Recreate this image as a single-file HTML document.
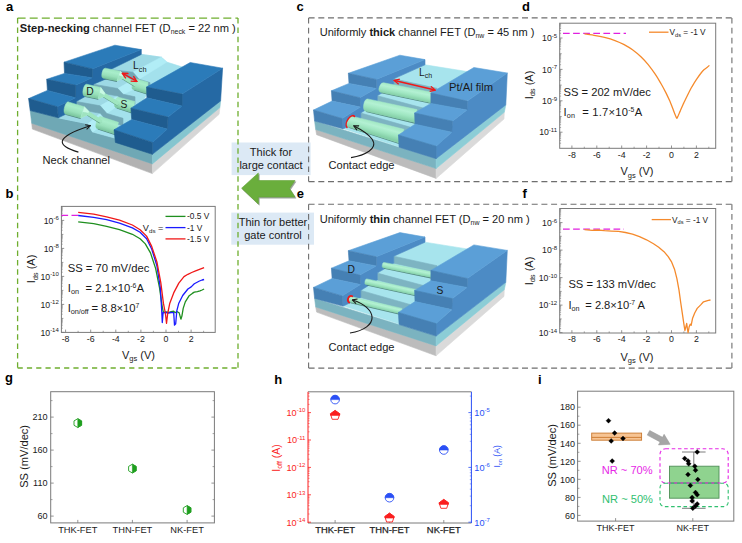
<!DOCTYPE html>
<html lang="en"><head><meta charset="utf-8"><title>Figure</title>
<style>
html,body{margin:0;padding:0;background:#fff;}
body{width:742px;height:543px;overflow:hidden;font-family:"Liberation Sans",Arial,sans-serif;}
svg{display:block;}
svg text{white-space:pre;}
</style></head><body>
<svg width="742" height="543" viewBox="0 0 742 543" font-family='"Liberation Sans", Arial, sans-serif'>
<rect x="231.6" y="142.5" width="79" height="32.6" fill="#dce9f5"/>
<rect x="231.3" y="212.6" width="82.7" height="32.1" fill="#dce9f5"/>
<line x1="17.6" y1="18.1" x2="238.0" y2="18.1" stroke="#6fae2f" stroke-width="1.3" stroke-dasharray="8 4.1"/>
<line x1="17.6" y1="368.0" x2="238.0" y2="368.0" stroke="#6fae2f" stroke-width="1.3" stroke-dasharray="5.2 4.1"/>
<line x1="17.6" y1="18.1" x2="17.6" y2="368.0" stroke="#6fae2f" stroke-width="1.3" stroke-dasharray="5.5 3.8"/>
<line x1="238.0" y1="18.1" x2="238.0" y2="368.0" stroke="#6fae2f" stroke-width="1.3" stroke-dasharray="5.5 3.8"/>
<line x1="308.6" y1="17.9" x2="731.9" y2="17.9" stroke="#6e6e6e" stroke-width="1.1" stroke-dasharray="6 3.7"/>
<line x1="308.6" y1="181.6" x2="731.9" y2="181.6" stroke="#6e6e6e" stroke-width="1.1" stroke-dasharray="6 3.7"/>
<line x1="308.6" y1="17.9" x2="308.6" y2="181.6" stroke="#6e6e6e" stroke-width="1.1" stroke-dasharray="5.7 4.2"/>
<line x1="731.9" y1="17.9" x2="731.9" y2="181.6" stroke="#6e6e6e" stroke-width="1.1" stroke-dasharray="5.7 4.2"/>
<line x1="308.6" y1="204.2" x2="731.9" y2="204.2" stroke="#6e6e6e" stroke-width="1.1" stroke-dasharray="6 3.7"/>
<line x1="308.6" y1="368.1" x2="731.9" y2="368.1" stroke="#6e6e6e" stroke-width="1.1" stroke-dasharray="6 3.7"/>
<line x1="308.6" y1="204.2" x2="308.6" y2="368.1" stroke="#6e6e6e" stroke-width="1.1" stroke-dasharray="5.7 4.2"/>
<line x1="731.9" y1="204.2" x2="731.9" y2="368.1" stroke="#6e6e6e" stroke-width="1.1" stroke-dasharray="5.7 4.2"/>
<text x="6.0" y="11.4" font-size="13" text-anchor="start" font-weight="bold" fill="#000" >a</text>
<text x="5.5" y="197.5" font-size="13" text-anchor="start" font-weight="bold" fill="#000" >b</text>
<text x="296.5" y="11.4" font-size="13" text-anchor="start" font-weight="bold" fill="#000" >c</text>
<text x="522.0" y="11.4" font-size="13" text-anchor="start" font-weight="bold" fill="#000" >d</text>
<text x="296.7" y="197.5" font-size="13" text-anchor="start" font-weight="bold" fill="#000" >e</text>
<text x="522.5" y="197.5" font-size="13" text-anchor="start" font-weight="bold" fill="#000" >f</text>
<text x="5.0" y="382.2" font-size="13" text-anchor="start" font-weight="bold" fill="#000" >g</text>
<text x="274.3" y="383.7" font-size="13" text-anchor="start" font-weight="bold" fill="#000" >h</text>
<text x="538.0" y="383.5" font-size="13" text-anchor="start" font-weight="bold" fill="#000" >i</text>
<text x="271.0" y="156.2" font-size="11.05" text-anchor="middle" font-weight="normal" fill="#1a1a1a" >Thick for</text>
<text x="271.0" y="169.4" font-size="11.05" text-anchor="middle" font-weight="normal" fill="#1a1a1a" >large contact</text>
<text x="273.0" y="226.0" font-size="11.0" text-anchor="middle" font-weight="normal" fill="#1a1a1a" >Thin for better</text>
<text x="273.0" y="238.9" font-size="11.0" text-anchor="middle" font-weight="normal" fill="#1a1a1a" >gate control</text>
<polygon points="242.6,189.4 259.3,174.2 259.3,181.7 296.0,181.7 290.5,189.7 296.0,198.2 259.3,198.2 259.3,205.2" fill="#9aa39a" stroke="#9aa39a" stroke-width="0.5" stroke-linejoin="round" />
<polygon points="241.6,188.2 258.3,173.0 258.3,180.5 295.0,180.5 289.5,188.5 295.0,197.0 258.3,197.0 258.3,204.0" fill="#6aae3c" stroke="#63a337" stroke-width="0.6" stroke-linejoin="round" />
<text x="19.8" y="32.0" font-size="11.1" text-anchor="start" font-weight="normal" fill="#1a1a1a" textLength="216" lengthAdjust="spacingAndGlyphs"><tspan font-weight="bold">Step-necking</tspan> channel FET (D<tspan font-size="6.9" dy="2">neck</tspan><tspan dy="-2" font-size="1">&#8203;</tspan> = 22 nm )</text>
<text x="319.7" y="35.8" font-size="11.05" text-anchor="start" font-weight="normal" fill="#1a1a1a" textLength="214.7" lengthAdjust="spacingAndGlyphs">Uniformly <tspan font-weight="bold">thick</tspan> channel FET (D<tspan font-size="6.9" dy="2">nw</tspan><tspan dy="-2" font-size="1">&#8203;</tspan> = 45 nm )</text>
<text x="319.7" y="223.4" font-size="11.05" text-anchor="start" font-weight="normal" fill="#1a1a1a" textLength="210" lengthAdjust="spacingAndGlyphs">Uniformly <tspan font-weight="bold">thin</tspan> channel FET (D<tspan font-size="6.9" dy="2">nw</tspan><tspan dy="-2" font-size="1">&#8203;</tspan> = 20 nm )</text>
<rect x="61.4" y="206.4" width="153.8" height="126.0" fill="#fff" stroke="#7a7a7a" stroke-width="1.0"/>
<line x1="61.4" y1="220.4" x2="64.2" y2="220.4" stroke="#7a7a7a" stroke-width="0.8" />
<text x="58.8" y="223.6" font-size="8.7" text-anchor="end" font-weight="normal" fill="#1a1a1a" >10<tspan font-size="6.0" dy="-3.3">-6</tspan><tspan dy="3.3" font-size="1">&#8203;</tspan></text>
<line x1="61.4" y1="248.4" x2="64.2" y2="248.4" stroke="#7a7a7a" stroke-width="0.8" />
<text x="58.8" y="251.6" font-size="8.7" text-anchor="end" font-weight="normal" fill="#1a1a1a" >10<tspan font-size="6.0" dy="-3.3">-8</tspan><tspan dy="3.3" font-size="1">&#8203;</tspan></text>
<line x1="61.4" y1="276.4" x2="64.2" y2="276.4" stroke="#7a7a7a" stroke-width="0.8" />
<text x="58.8" y="279.6" font-size="8.7" text-anchor="end" font-weight="normal" fill="#1a1a1a" >10<tspan font-size="6.0" dy="-3.3">-10</tspan><tspan dy="3.3" font-size="1">&#8203;</tspan></text>
<line x1="61.4" y1="304.4" x2="64.2" y2="304.4" stroke="#7a7a7a" stroke-width="0.8" />
<text x="58.8" y="307.6" font-size="8.7" text-anchor="end" font-weight="normal" fill="#1a1a1a" >10<tspan font-size="6.0" dy="-3.3">-12</tspan><tspan dy="3.3" font-size="1">&#8203;</tspan></text>
<line x1="61.4" y1="332.4" x2="64.2" y2="332.4" stroke="#7a7a7a" stroke-width="0.8" />
<text x="58.8" y="335.6" font-size="8.7" text-anchor="end" font-weight="normal" fill="#1a1a1a" >10<tspan font-size="6.0" dy="-3.3">-14</tspan><tspan dy="3.3" font-size="1">&#8203;</tspan></text>
<line x1="61.4" y1="234.4" x2="63.4" y2="234.4" stroke="#7a7a7a" stroke-width="0.7" />
<line x1="61.4" y1="262.4" x2="63.4" y2="262.4" stroke="#7a7a7a" stroke-width="0.7" />
<line x1="61.4" y1="290.4" x2="63.4" y2="290.4" stroke="#7a7a7a" stroke-width="0.7" />
<line x1="61.4" y1="318.4" x2="63.4" y2="318.4" stroke="#7a7a7a" stroke-width="0.7" />
<line x1="61.4" y1="216.2" x2="62.8" y2="216.2" stroke="#7a7a7a" stroke-width="0.6" />
<line x1="61.4" y1="213.7" x2="62.8" y2="213.7" stroke="#7a7a7a" stroke-width="0.6" />
<line x1="61.4" y1="212.0" x2="62.8" y2="212.0" stroke="#7a7a7a" stroke-width="0.6" />
<line x1="61.4" y1="210.6" x2="62.8" y2="210.6" stroke="#7a7a7a" stroke-width="0.6" />
<line x1="61.4" y1="209.5" x2="62.8" y2="209.5" stroke="#7a7a7a" stroke-width="0.6" />
<line x1="61.4" y1="208.6" x2="62.8" y2="208.6" stroke="#7a7a7a" stroke-width="0.6" />
<line x1="61.4" y1="207.8" x2="62.8" y2="207.8" stroke="#7a7a7a" stroke-width="0.6" />
<line x1="61.4" y1="207.0" x2="62.8" y2="207.0" stroke="#7a7a7a" stroke-width="0.6" />
<line x1="61.4" y1="230.2" x2="62.8" y2="230.2" stroke="#7a7a7a" stroke-width="0.6" />
<line x1="61.4" y1="227.7" x2="62.8" y2="227.7" stroke="#7a7a7a" stroke-width="0.6" />
<line x1="61.4" y1="226.0" x2="62.8" y2="226.0" stroke="#7a7a7a" stroke-width="0.6" />
<line x1="61.4" y1="224.6" x2="62.8" y2="224.6" stroke="#7a7a7a" stroke-width="0.6" />
<line x1="61.4" y1="223.5" x2="62.8" y2="223.5" stroke="#7a7a7a" stroke-width="0.6" />
<line x1="61.4" y1="222.6" x2="62.8" y2="222.6" stroke="#7a7a7a" stroke-width="0.6" />
<line x1="61.4" y1="221.8" x2="62.8" y2="221.8" stroke="#7a7a7a" stroke-width="0.6" />
<line x1="61.4" y1="221.0" x2="62.8" y2="221.0" stroke="#7a7a7a" stroke-width="0.6" />
<line x1="61.4" y1="244.2" x2="62.8" y2="244.2" stroke="#7a7a7a" stroke-width="0.6" />
<line x1="61.4" y1="241.7" x2="62.8" y2="241.7" stroke="#7a7a7a" stroke-width="0.6" />
<line x1="61.4" y1="240.0" x2="62.8" y2="240.0" stroke="#7a7a7a" stroke-width="0.6" />
<line x1="61.4" y1="238.6" x2="62.8" y2="238.6" stroke="#7a7a7a" stroke-width="0.6" />
<line x1="61.4" y1="237.5" x2="62.8" y2="237.5" stroke="#7a7a7a" stroke-width="0.6" />
<line x1="61.4" y1="236.6" x2="62.8" y2="236.6" stroke="#7a7a7a" stroke-width="0.6" />
<line x1="61.4" y1="235.8" x2="62.8" y2="235.8" stroke="#7a7a7a" stroke-width="0.6" />
<line x1="61.4" y1="235.0" x2="62.8" y2="235.0" stroke="#7a7a7a" stroke-width="0.6" />
<line x1="61.4" y1="258.2" x2="62.8" y2="258.2" stroke="#7a7a7a" stroke-width="0.6" />
<line x1="61.4" y1="255.7" x2="62.8" y2="255.7" stroke="#7a7a7a" stroke-width="0.6" />
<line x1="61.4" y1="254.0" x2="62.8" y2="254.0" stroke="#7a7a7a" stroke-width="0.6" />
<line x1="61.4" y1="252.6" x2="62.8" y2="252.6" stroke="#7a7a7a" stroke-width="0.6" />
<line x1="61.4" y1="251.5" x2="62.8" y2="251.5" stroke="#7a7a7a" stroke-width="0.6" />
<line x1="61.4" y1="250.6" x2="62.8" y2="250.6" stroke="#7a7a7a" stroke-width="0.6" />
<line x1="61.4" y1="249.8" x2="62.8" y2="249.8" stroke="#7a7a7a" stroke-width="0.6" />
<line x1="61.4" y1="249.0" x2="62.8" y2="249.0" stroke="#7a7a7a" stroke-width="0.6" />
<line x1="61.4" y1="272.2" x2="62.8" y2="272.2" stroke="#7a7a7a" stroke-width="0.6" />
<line x1="61.4" y1="269.7" x2="62.8" y2="269.7" stroke="#7a7a7a" stroke-width="0.6" />
<line x1="61.4" y1="268.0" x2="62.8" y2="268.0" stroke="#7a7a7a" stroke-width="0.6" />
<line x1="61.4" y1="266.6" x2="62.8" y2="266.6" stroke="#7a7a7a" stroke-width="0.6" />
<line x1="61.4" y1="265.5" x2="62.8" y2="265.5" stroke="#7a7a7a" stroke-width="0.6" />
<line x1="61.4" y1="264.6" x2="62.8" y2="264.6" stroke="#7a7a7a" stroke-width="0.6" />
<line x1="61.4" y1="263.8" x2="62.8" y2="263.8" stroke="#7a7a7a" stroke-width="0.6" />
<line x1="61.4" y1="263.0" x2="62.8" y2="263.0" stroke="#7a7a7a" stroke-width="0.6" />
<line x1="61.4" y1="286.2" x2="62.8" y2="286.2" stroke="#7a7a7a" stroke-width="0.6" />
<line x1="61.4" y1="283.7" x2="62.8" y2="283.7" stroke="#7a7a7a" stroke-width="0.6" />
<line x1="61.4" y1="282.0" x2="62.8" y2="282.0" stroke="#7a7a7a" stroke-width="0.6" />
<line x1="61.4" y1="280.6" x2="62.8" y2="280.6" stroke="#7a7a7a" stroke-width="0.6" />
<line x1="61.4" y1="279.5" x2="62.8" y2="279.5" stroke="#7a7a7a" stroke-width="0.6" />
<line x1="61.4" y1="278.6" x2="62.8" y2="278.6" stroke="#7a7a7a" stroke-width="0.6" />
<line x1="61.4" y1="277.8" x2="62.8" y2="277.8" stroke="#7a7a7a" stroke-width="0.6" />
<line x1="61.4" y1="277.0" x2="62.8" y2="277.0" stroke="#7a7a7a" stroke-width="0.6" />
<line x1="61.4" y1="300.2" x2="62.8" y2="300.2" stroke="#7a7a7a" stroke-width="0.6" />
<line x1="61.4" y1="297.7" x2="62.8" y2="297.7" stroke="#7a7a7a" stroke-width="0.6" />
<line x1="61.4" y1="296.0" x2="62.8" y2="296.0" stroke="#7a7a7a" stroke-width="0.6" />
<line x1="61.4" y1="294.6" x2="62.8" y2="294.6" stroke="#7a7a7a" stroke-width="0.6" />
<line x1="61.4" y1="293.5" x2="62.8" y2="293.5" stroke="#7a7a7a" stroke-width="0.6" />
<line x1="61.4" y1="292.6" x2="62.8" y2="292.6" stroke="#7a7a7a" stroke-width="0.6" />
<line x1="61.4" y1="291.8" x2="62.8" y2="291.8" stroke="#7a7a7a" stroke-width="0.6" />
<line x1="61.4" y1="291.0" x2="62.8" y2="291.0" stroke="#7a7a7a" stroke-width="0.6" />
<line x1="61.4" y1="314.2" x2="62.8" y2="314.2" stroke="#7a7a7a" stroke-width="0.6" />
<line x1="61.4" y1="311.7" x2="62.8" y2="311.7" stroke="#7a7a7a" stroke-width="0.6" />
<line x1="61.4" y1="310.0" x2="62.8" y2="310.0" stroke="#7a7a7a" stroke-width="0.6" />
<line x1="61.4" y1="308.6" x2="62.8" y2="308.6" stroke="#7a7a7a" stroke-width="0.6" />
<line x1="61.4" y1="307.5" x2="62.8" y2="307.5" stroke="#7a7a7a" stroke-width="0.6" />
<line x1="61.4" y1="306.6" x2="62.8" y2="306.6" stroke="#7a7a7a" stroke-width="0.6" />
<line x1="61.4" y1="305.8" x2="62.8" y2="305.8" stroke="#7a7a7a" stroke-width="0.6" />
<line x1="61.4" y1="305.0" x2="62.8" y2="305.0" stroke="#7a7a7a" stroke-width="0.6" />
<line x1="61.4" y1="328.2" x2="62.8" y2="328.2" stroke="#7a7a7a" stroke-width="0.6" />
<line x1="61.4" y1="325.7" x2="62.8" y2="325.7" stroke="#7a7a7a" stroke-width="0.6" />
<line x1="61.4" y1="324.0" x2="62.8" y2="324.0" stroke="#7a7a7a" stroke-width="0.6" />
<line x1="61.4" y1="322.6" x2="62.8" y2="322.6" stroke="#7a7a7a" stroke-width="0.6" />
<line x1="61.4" y1="321.5" x2="62.8" y2="321.5" stroke="#7a7a7a" stroke-width="0.6" />
<line x1="61.4" y1="320.6" x2="62.8" y2="320.6" stroke="#7a7a7a" stroke-width="0.6" />
<line x1="61.4" y1="319.8" x2="62.8" y2="319.8" stroke="#7a7a7a" stroke-width="0.6" />
<line x1="61.4" y1="319.0" x2="62.8" y2="319.0" stroke="#7a7a7a" stroke-width="0.6" />
<line x1="65.6" y1="332.4" x2="65.6" y2="329.6" stroke="#7a7a7a" stroke-width="0.8" />
<text x="65.6" y="341.6" font-size="8.8" text-anchor="middle" font-weight="normal" fill="#1a1a1a" >-8</text>
<line x1="90.7" y1="332.4" x2="90.7" y2="329.6" stroke="#7a7a7a" stroke-width="0.8" />
<text x="90.7" y="341.6" font-size="8.8" text-anchor="middle" font-weight="normal" fill="#1a1a1a" >-6</text>
<line x1="115.8" y1="332.4" x2="115.8" y2="329.6" stroke="#7a7a7a" stroke-width="0.8" />
<text x="115.8" y="341.6" font-size="8.8" text-anchor="middle" font-weight="normal" fill="#1a1a1a" >-4</text>
<line x1="140.9" y1="332.4" x2="140.9" y2="329.6" stroke="#7a7a7a" stroke-width="0.8" />
<text x="140.9" y="341.6" font-size="8.8" text-anchor="middle" font-weight="normal" fill="#1a1a1a" >-2</text>
<line x1="166.0" y1="332.4" x2="166.0" y2="329.6" stroke="#7a7a7a" stroke-width="0.8" />
<text x="166.0" y="341.6" font-size="8.8" text-anchor="middle" font-weight="normal" fill="#1a1a1a" >0</text>
<line x1="191.1" y1="332.4" x2="191.1" y2="329.6" stroke="#7a7a7a" stroke-width="0.8" />
<text x="191.1" y="341.6" font-size="8.8" text-anchor="middle" font-weight="normal" fill="#1a1a1a" >2</text>
<line x1="78.1" y1="332.4" x2="78.1" y2="330.8" stroke="#7a7a7a" stroke-width="0.7" />
<line x1="103.2" y1="332.4" x2="103.2" y2="330.8" stroke="#7a7a7a" stroke-width="0.7" />
<line x1="128.3" y1="332.4" x2="128.3" y2="330.8" stroke="#7a7a7a" stroke-width="0.7" />
<line x1="153.4" y1="332.4" x2="153.4" y2="330.8" stroke="#7a7a7a" stroke-width="0.7" />
<line x1="178.5" y1="332.4" x2="178.5" y2="330.8" stroke="#7a7a7a" stroke-width="0.7" />
<line x1="203.6" y1="332.4" x2="203.6" y2="330.8" stroke="#7a7a7a" stroke-width="0.7" />
<text x="138.5" y="358.6" font-size="11" text-anchor="middle" font-weight="normal" fill="#1a1a1a" >V<tspan font-size="7.5" dy="2.2">gs</tspan><tspan dy="-2.2" font-size="1">&#8203;</tspan> (V)</text>
<text x="35.4" y="269.0" font-size="11" text-anchor="middle" font-weight="normal" fill="#1a1a1a" transform="rotate(-90 35.4 269.0)" >I<tspan font-size="7.5" dy="2.2">ds</tspan><tspan dy="-2.2" font-size="1">&#8203;</tspan> (A)</text>
<line x1="61.4" y1="215.3" x2="78.5" y2="215.3" stroke="#e020e0" stroke-width="1.3" stroke-dasharray="6.7 3.4"/>
<path d="M78.2 221.9 L93.7 223.7 L106.6 226.3 L119.5 229.7 L132.4 234.3 L140.1 238.7 L145.3 243.9 L150.5 252.9 L155.6 268.4 L159.5 287.7 L162.1 305.8 L163.4 312.7 L165.9 312.0 L168.5 312.5 L171.1 311.7 L173.7 311.2 L175.2 312.7 L177.3 311.7 L179.1 312.7 L180.9 319.2 L181.9 316.1 L183.2 308.4 L185.3 301.9 L189.2 295.7 L192.3 293.4 L194.3 292.1 L197.4 291.6 L200.0 290.8 L202.1 290.0 L204.1 289.0" fill="none" stroke="#1f8f1f" stroke-width="1.3" stroke-linejoin="round"/>
<path d="M78.2 215.5 L93.7 217.3 L106.6 219.6 L119.5 223.2 L132.4 227.9 L140.1 232.2 L146.6 238.7 L151.7 249.0 L156.9 265.8 L160.3 287.7 L161.6 308.4 L162.3 322.5 L163.1 312.7 L165.9 312.5 L168.5 313.0 L171.1 312.5 L173.7 312.7 L174.5 325.1 L175.7 323.8 L176.8 310.9 L178.8 303.2 L182.7 295.5 L187.9 289.0 L191.2 286.9 L194.3 283.8 L199.5 281.0 L202.1 280.0 L204.1 279.5" fill="none" stroke="#1a1aff" stroke-width="1.3" stroke-linejoin="round"/>
<path d="M78.2 212.4 L93.7 214.2 L106.6 216.8 L119.5 220.1 L132.4 225.0 L140.1 229.7 L146.6 236.1 L151.7 246.4 L156.9 261.9 L160.8 282.6 L163.4 303.2 L165.4 313.5 L166.5 323.3 L167.7 313.5 L169.8 303.2 L173.7 292.9 L178.8 283.1 L184.0 276.6 L187.9 274.3 L191.7 272.5 L195.6 270.9 L199.5 269.4 L204.1 267.6" fill="none" stroke="#f01818" stroke-width="1.3" stroke-linejoin="round"/>
<line x1="165.5" y1="216.4" x2="185.5" y2="216.4" stroke="#1f8f1f" stroke-width="1.3" />
<text x="187.0" y="219.4" font-size="8.4" text-anchor="start" font-weight="normal" fill="#1a1a1a" >-0.5 V</text>
<line x1="165.5" y1="227.6" x2="185.5" y2="227.6" stroke="#1a1aff" stroke-width="1.3" />
<text x="187.0" y="230.6" font-size="8.4" text-anchor="start" font-weight="normal" fill="#1a1a1a" >-1 V</text>
<line x1="165.5" y1="238.9" x2="185.5" y2="238.9" stroke="#f01818" stroke-width="1.3" />
<text x="187.0" y="241.9" font-size="8.4" text-anchor="start" font-weight="normal" fill="#1a1a1a" >-1.5 V</text>
<text x="142.8" y="230.6" font-size="9.2" text-anchor="start" font-weight="normal" fill="#1a1a1a" >V<tspan font-size="6.2" dy="2.2">ds</tspan><tspan dy="-2.2" font-size="1">&#8203;</tspan> =</text>
<text x="67.7" y="271.9" font-size="11.25" text-anchor="start" font-weight="normal" fill="#1a1a1a" >SS = 70 mV/dec</text>
<text x="67.7" y="292.0" font-size="11.25" text-anchor="start" font-weight="normal" fill="#1a1a1a" textLength="76.3">I<tspan font-size="7.3" dy="2.2">on</tspan><tspan dy="-2.2" font-size="1">&#8203;</tspan>  = 2.1×10<tspan font-size="6.8" dy="-4">-6</tspan><tspan dy="4" font-size="1">&#8203;</tspan>A</text>
<text x="67.7" y="311.9" font-size="11.25" text-anchor="start" font-weight="normal" fill="#1a1a1a" textLength="71.5">I<tspan font-size="7.3" dy="2.2">on/off</tspan><tspan dy="-2.2" font-size="1">&#8203;</tspan> = 8.8×10<tspan font-size="6.8" dy="-4">7</tspan><tspan dy="4" font-size="1">&#8203;</tspan></text>
<rect x="559.7" y="23.2" width="156.0" height="125.1" fill="#fff" stroke="#7a7a7a" stroke-width="1.0"/>
<line x1="559.7" y1="38.0" x2="562.5" y2="38.0" stroke="#7a7a7a" stroke-width="0.8" />
<text x="557.1" y="41.2" font-size="8.7" text-anchor="end" font-weight="normal" fill="#1a1a1a" >10<tspan font-size="6.0" dy="-3.3">-5</tspan><tspan dy="3.3" font-size="1">&#8203;</tspan></text>
<line x1="559.7" y1="69.4" x2="562.5" y2="69.4" stroke="#7a7a7a" stroke-width="0.8" />
<text x="557.1" y="72.6" font-size="8.7" text-anchor="end" font-weight="normal" fill="#1a1a1a" >10<tspan font-size="6.0" dy="-3.3">-7</tspan><tspan dy="3.3" font-size="1">&#8203;</tspan></text>
<line x1="559.7" y1="100.8" x2="562.5" y2="100.8" stroke="#7a7a7a" stroke-width="0.8" />
<text x="557.1" y="104.0" font-size="8.7" text-anchor="end" font-weight="normal" fill="#1a1a1a" >10<tspan font-size="6.0" dy="-3.3">-9</tspan><tspan dy="3.3" font-size="1">&#8203;</tspan></text>
<line x1="559.7" y1="132.2" x2="562.5" y2="132.2" stroke="#7a7a7a" stroke-width="0.8" />
<text x="557.1" y="135.4" font-size="8.7" text-anchor="end" font-weight="normal" fill="#1a1a1a" >10<tspan font-size="6.0" dy="-3.3">-11</tspan><tspan dy="3.3" font-size="1">&#8203;</tspan></text>
<line x1="559.7" y1="53.7" x2="561.7" y2="53.7" stroke="#7a7a7a" stroke-width="0.7" />
<line x1="559.7" y1="85.1" x2="561.7" y2="85.1" stroke="#7a7a7a" stroke-width="0.7" />
<line x1="559.7" y1="116.5" x2="561.7" y2="116.5" stroke="#7a7a7a" stroke-width="0.7" />
<line x1="559.7" y1="33.3" x2="561.1" y2="33.3" stroke="#7a7a7a" stroke-width="0.6" />
<line x1="559.7" y1="30.5" x2="561.1" y2="30.5" stroke="#7a7a7a" stroke-width="0.6" />
<line x1="559.7" y1="28.5" x2="561.1" y2="28.5" stroke="#7a7a7a" stroke-width="0.6" />
<line x1="559.7" y1="27.0" x2="561.1" y2="27.0" stroke="#7a7a7a" stroke-width="0.6" />
<line x1="559.7" y1="25.8" x2="561.1" y2="25.8" stroke="#7a7a7a" stroke-width="0.6" />
<line x1="559.7" y1="24.7" x2="561.1" y2="24.7" stroke="#7a7a7a" stroke-width="0.6" />
<line x1="559.7" y1="23.8" x2="561.1" y2="23.8" stroke="#7a7a7a" stroke-width="0.6" />
<line x1="559.7" y1="49.0" x2="561.1" y2="49.0" stroke="#7a7a7a" stroke-width="0.6" />
<line x1="559.7" y1="46.2" x2="561.1" y2="46.2" stroke="#7a7a7a" stroke-width="0.6" />
<line x1="559.7" y1="44.2" x2="561.1" y2="44.2" stroke="#7a7a7a" stroke-width="0.6" />
<line x1="559.7" y1="42.7" x2="561.1" y2="42.7" stroke="#7a7a7a" stroke-width="0.6" />
<line x1="559.7" y1="41.5" x2="561.1" y2="41.5" stroke="#7a7a7a" stroke-width="0.6" />
<line x1="559.7" y1="40.4" x2="561.1" y2="40.4" stroke="#7a7a7a" stroke-width="0.6" />
<line x1="559.7" y1="39.5" x2="561.1" y2="39.5" stroke="#7a7a7a" stroke-width="0.6" />
<line x1="559.7" y1="38.7" x2="561.1" y2="38.7" stroke="#7a7a7a" stroke-width="0.6" />
<line x1="559.7" y1="64.7" x2="561.1" y2="64.7" stroke="#7a7a7a" stroke-width="0.6" />
<line x1="559.7" y1="61.9" x2="561.1" y2="61.9" stroke="#7a7a7a" stroke-width="0.6" />
<line x1="559.7" y1="59.9" x2="561.1" y2="59.9" stroke="#7a7a7a" stroke-width="0.6" />
<line x1="559.7" y1="58.4" x2="561.1" y2="58.4" stroke="#7a7a7a" stroke-width="0.6" />
<line x1="559.7" y1="57.2" x2="561.1" y2="57.2" stroke="#7a7a7a" stroke-width="0.6" />
<line x1="559.7" y1="56.1" x2="561.1" y2="56.1" stroke="#7a7a7a" stroke-width="0.6" />
<line x1="559.7" y1="55.2" x2="561.1" y2="55.2" stroke="#7a7a7a" stroke-width="0.6" />
<line x1="559.7" y1="54.4" x2="561.1" y2="54.4" stroke="#7a7a7a" stroke-width="0.6" />
<line x1="559.7" y1="80.4" x2="561.1" y2="80.4" stroke="#7a7a7a" stroke-width="0.6" />
<line x1="559.7" y1="77.6" x2="561.1" y2="77.6" stroke="#7a7a7a" stroke-width="0.6" />
<line x1="559.7" y1="75.6" x2="561.1" y2="75.6" stroke="#7a7a7a" stroke-width="0.6" />
<line x1="559.7" y1="74.1" x2="561.1" y2="74.1" stroke="#7a7a7a" stroke-width="0.6" />
<line x1="559.7" y1="72.9" x2="561.1" y2="72.9" stroke="#7a7a7a" stroke-width="0.6" />
<line x1="559.7" y1="71.8" x2="561.1" y2="71.8" stroke="#7a7a7a" stroke-width="0.6" />
<line x1="559.7" y1="70.9" x2="561.1" y2="70.9" stroke="#7a7a7a" stroke-width="0.6" />
<line x1="559.7" y1="70.1" x2="561.1" y2="70.1" stroke="#7a7a7a" stroke-width="0.6" />
<line x1="559.7" y1="96.1" x2="561.1" y2="96.1" stroke="#7a7a7a" stroke-width="0.6" />
<line x1="559.7" y1="93.3" x2="561.1" y2="93.3" stroke="#7a7a7a" stroke-width="0.6" />
<line x1="559.7" y1="91.3" x2="561.1" y2="91.3" stroke="#7a7a7a" stroke-width="0.6" />
<line x1="559.7" y1="89.8" x2="561.1" y2="89.8" stroke="#7a7a7a" stroke-width="0.6" />
<line x1="559.7" y1="88.6" x2="561.1" y2="88.6" stroke="#7a7a7a" stroke-width="0.6" />
<line x1="559.7" y1="87.5" x2="561.1" y2="87.5" stroke="#7a7a7a" stroke-width="0.6" />
<line x1="559.7" y1="86.6" x2="561.1" y2="86.6" stroke="#7a7a7a" stroke-width="0.6" />
<line x1="559.7" y1="85.8" x2="561.1" y2="85.8" stroke="#7a7a7a" stroke-width="0.6" />
<line x1="559.7" y1="111.8" x2="561.1" y2="111.8" stroke="#7a7a7a" stroke-width="0.6" />
<line x1="559.7" y1="109.0" x2="561.1" y2="109.0" stroke="#7a7a7a" stroke-width="0.6" />
<line x1="559.7" y1="107.0" x2="561.1" y2="107.0" stroke="#7a7a7a" stroke-width="0.6" />
<line x1="559.7" y1="105.5" x2="561.1" y2="105.5" stroke="#7a7a7a" stroke-width="0.6" />
<line x1="559.7" y1="104.3" x2="561.1" y2="104.3" stroke="#7a7a7a" stroke-width="0.6" />
<line x1="559.7" y1="103.2" x2="561.1" y2="103.2" stroke="#7a7a7a" stroke-width="0.6" />
<line x1="559.7" y1="102.3" x2="561.1" y2="102.3" stroke="#7a7a7a" stroke-width="0.6" />
<line x1="559.7" y1="101.5" x2="561.1" y2="101.5" stroke="#7a7a7a" stroke-width="0.6" />
<line x1="559.7" y1="127.5" x2="561.1" y2="127.5" stroke="#7a7a7a" stroke-width="0.6" />
<line x1="559.7" y1="124.7" x2="561.1" y2="124.7" stroke="#7a7a7a" stroke-width="0.6" />
<line x1="559.7" y1="122.7" x2="561.1" y2="122.7" stroke="#7a7a7a" stroke-width="0.6" />
<line x1="559.7" y1="121.2" x2="561.1" y2="121.2" stroke="#7a7a7a" stroke-width="0.6" />
<line x1="559.7" y1="120.0" x2="561.1" y2="120.0" stroke="#7a7a7a" stroke-width="0.6" />
<line x1="559.7" y1="118.9" x2="561.1" y2="118.9" stroke="#7a7a7a" stroke-width="0.6" />
<line x1="559.7" y1="118.0" x2="561.1" y2="118.0" stroke="#7a7a7a" stroke-width="0.6" />
<line x1="559.7" y1="117.2" x2="561.1" y2="117.2" stroke="#7a7a7a" stroke-width="0.6" />
<line x1="559.7" y1="143.2" x2="561.1" y2="143.2" stroke="#7a7a7a" stroke-width="0.6" />
<line x1="559.7" y1="140.4" x2="561.1" y2="140.4" stroke="#7a7a7a" stroke-width="0.6" />
<line x1="559.7" y1="138.4" x2="561.1" y2="138.4" stroke="#7a7a7a" stroke-width="0.6" />
<line x1="559.7" y1="136.9" x2="561.1" y2="136.9" stroke="#7a7a7a" stroke-width="0.6" />
<line x1="559.7" y1="135.7" x2="561.1" y2="135.7" stroke="#7a7a7a" stroke-width="0.6" />
<line x1="559.7" y1="134.6" x2="561.1" y2="134.6" stroke="#7a7a7a" stroke-width="0.6" />
<line x1="559.7" y1="133.7" x2="561.1" y2="133.7" stroke="#7a7a7a" stroke-width="0.6" />
<line x1="559.7" y1="132.9" x2="561.1" y2="132.9" stroke="#7a7a7a" stroke-width="0.6" />
<line x1="571.9" y1="148.3" x2="571.9" y2="145.5" stroke="#7a7a7a" stroke-width="0.8" />
<text x="571.9" y="157.5" font-size="8.8" text-anchor="middle" font-weight="normal" fill="#1a1a1a" >-8</text>
<line x1="596.8" y1="148.3" x2="596.8" y2="145.5" stroke="#7a7a7a" stroke-width="0.8" />
<text x="596.8" y="157.5" font-size="8.8" text-anchor="middle" font-weight="normal" fill="#1a1a1a" >-6</text>
<line x1="621.7" y1="148.3" x2="621.7" y2="145.5" stroke="#7a7a7a" stroke-width="0.8" />
<text x="621.7" y="157.5" font-size="8.8" text-anchor="middle" font-weight="normal" fill="#1a1a1a" >-4</text>
<line x1="646.6" y1="148.3" x2="646.6" y2="145.5" stroke="#7a7a7a" stroke-width="0.8" />
<text x="646.6" y="157.5" font-size="8.8" text-anchor="middle" font-weight="normal" fill="#1a1a1a" >-2</text>
<line x1="671.5" y1="148.3" x2="671.5" y2="145.5" stroke="#7a7a7a" stroke-width="0.8" />
<text x="671.5" y="157.5" font-size="8.8" text-anchor="middle" font-weight="normal" fill="#1a1a1a" >0</text>
<line x1="696.4" y1="148.3" x2="696.4" y2="145.5" stroke="#7a7a7a" stroke-width="0.8" />
<text x="696.4" y="157.5" font-size="8.8" text-anchor="middle" font-weight="normal" fill="#1a1a1a" >2</text>
<line x1="584.3" y1="148.3" x2="584.3" y2="146.7" stroke="#7a7a7a" stroke-width="0.7" />
<line x1="609.2" y1="148.3" x2="609.2" y2="146.7" stroke="#7a7a7a" stroke-width="0.7" />
<line x1="634.1" y1="148.3" x2="634.1" y2="146.7" stroke="#7a7a7a" stroke-width="0.7" />
<line x1="659.0" y1="148.3" x2="659.0" y2="146.7" stroke="#7a7a7a" stroke-width="0.7" />
<line x1="683.9" y1="148.3" x2="683.9" y2="146.7" stroke="#7a7a7a" stroke-width="0.7" />
<line x1="708.8" y1="148.3" x2="708.8" y2="146.7" stroke="#7a7a7a" stroke-width="0.7" />
<text x="637.0" y="175.3" font-size="11" text-anchor="middle" font-weight="normal" fill="#1a1a1a" >V<tspan font-size="7.5" dy="2.2">gs</tspan><tspan dy="-2.2" font-size="1">&#8203;</tspan> (V)</text>
<text x="533.0" y="85.0" font-size="11" text-anchor="middle" font-weight="normal" fill="#1a1a1a" transform="rotate(-90 533.0 85.0)" >I<tspan font-size="7.5" dy="2.2">ds</tspan><tspan dy="-2.2" font-size="1">&#8203;</tspan> (A)</text>
<line x1="563.0" y1="33.3" x2="626.0" y2="33.3" stroke="#e020e0" stroke-width="1.3" stroke-dasharray="6.7 3.4"/>
<path d="M584.5 33.9 C586.1 34.2 590.7 34.8 594.0 35.3 C597.3 35.9 601.0 36.6 604.5 37.4 C608.0 38.3 611.8 39.4 615.0 40.6 C618.2 41.8 620.8 42.9 623.7 44.4 C626.6 46.0 629.5 47.6 632.5 49.7 C635.4 51.8 638.6 54.5 641.2 57.0 C643.8 59.5 645.9 61.9 648.2 64.7 C650.5 67.6 653.0 71.0 655.2 74.2 C657.4 77.4 659.3 80.8 661.2 84.0 C663.0 87.1 664.5 90.0 666.1 93.1 C667.6 96.1 669.0 99.3 670.3 102.2 C671.5 105.0 672.5 107.8 673.4 110.2 C674.3 112.6 675.3 115.2 675.9 116.5 C676.4 117.9 676.5 118.4 676.9 118.3 C677.3 118.1 677.7 116.7 678.3 115.5 C678.9 114.2 679.5 112.5 680.4 110.6 C681.3 108.6 682.4 106.1 683.5 103.6 C684.7 101.1 686.0 98.3 687.4 95.5 C688.8 92.7 690.4 89.5 691.9 86.8 C693.5 84.1 695.0 81.6 696.5 79.4 C698.0 77.2 699.4 75.1 700.7 73.5 C702.0 71.8 703.1 70.6 704.2 69.6 C705.2 68.6 706.1 68.2 707.0 67.5 C707.9 66.8 709.0 65.8 709.4 65.4" fill="none" stroke="#f58a2c" stroke-width="1.3" stroke-linejoin="round"/>
<line x1="649.0" y1="32.2" x2="668.5" y2="32.2" stroke="#f58a2c" stroke-width="1.3" />
<text x="669.5" y="35.2" font-size="8.3" text-anchor="start" font-weight="normal" fill="#1a1a1a" >V<tspan font-size="5.6" dy="1.6">ds</tspan><tspan dy="-1.6" font-size="1">&#8203;</tspan> = -1 V</text>
<text x="563.5" y="95.6" font-size="11.2" text-anchor="start" font-weight="normal" fill="#1a1a1a" >SS = 202 mV/dec</text>
<text x="563.5" y="116.2" font-size="11.2" text-anchor="start" font-weight="normal" fill="#1a1a1a" textLength="78.8">I<tspan font-size="7.2" dy="2.2">on</tspan><tspan dy="-2.2" font-size="1">&#8203;</tspan>  = 1.7×10<tspan font-size="6.8" dy="-4">-5</tspan><tspan dy="4" font-size="1">&#8203;</tspan>A</text>
<rect x="559.7" y="208.5" width="156.0" height="124.5" fill="#fff" stroke="#7a7a7a" stroke-width="1.0"/>
<line x1="559.7" y1="222.6" x2="562.5" y2="222.6" stroke="#7a7a7a" stroke-width="0.8" />
<text x="557.1" y="225.8" font-size="8.7" text-anchor="end" font-weight="normal" fill="#1a1a1a" >10<tspan font-size="6.0" dy="-3.3">-6</tspan><tspan dy="3.3" font-size="1">&#8203;</tspan></text>
<line x1="559.7" y1="250.1" x2="562.5" y2="250.1" stroke="#7a7a7a" stroke-width="0.8" />
<text x="557.1" y="253.3" font-size="8.7" text-anchor="end" font-weight="normal" fill="#1a1a1a" >10<tspan font-size="6.0" dy="-3.3">-8</tspan><tspan dy="3.3" font-size="1">&#8203;</tspan></text>
<line x1="559.7" y1="277.6" x2="562.5" y2="277.6" stroke="#7a7a7a" stroke-width="0.8" />
<text x="557.1" y="280.8" font-size="8.7" text-anchor="end" font-weight="normal" fill="#1a1a1a" >10<tspan font-size="6.0" dy="-3.3">-10</tspan><tspan dy="3.3" font-size="1">&#8203;</tspan></text>
<line x1="559.7" y1="305.1" x2="562.5" y2="305.1" stroke="#7a7a7a" stroke-width="0.8" />
<text x="557.1" y="308.3" font-size="8.7" text-anchor="end" font-weight="normal" fill="#1a1a1a" >10<tspan font-size="6.0" dy="-3.3">-12</tspan><tspan dy="3.3" font-size="1">&#8203;</tspan></text>
<line x1="559.7" y1="332.6" x2="562.5" y2="332.6" stroke="#7a7a7a" stroke-width="0.8" />
<text x="557.1" y="335.8" font-size="8.7" text-anchor="end" font-weight="normal" fill="#1a1a1a" >10<tspan font-size="6.0" dy="-3.3">-14</tspan><tspan dy="3.3" font-size="1">&#8203;</tspan></text>
<line x1="559.7" y1="236.3" x2="561.7" y2="236.3" stroke="#7a7a7a" stroke-width="0.7" />
<line x1="559.7" y1="263.9" x2="561.7" y2="263.9" stroke="#7a7a7a" stroke-width="0.7" />
<line x1="559.7" y1="291.4" x2="561.7" y2="291.4" stroke="#7a7a7a" stroke-width="0.7" />
<line x1="559.7" y1="318.9" x2="561.7" y2="318.9" stroke="#7a7a7a" stroke-width="0.7" />
<line x1="559.7" y1="218.5" x2="561.1" y2="218.5" stroke="#7a7a7a" stroke-width="0.6" />
<line x1="559.7" y1="216.0" x2="561.1" y2="216.0" stroke="#7a7a7a" stroke-width="0.6" />
<line x1="559.7" y1="214.3" x2="561.1" y2="214.3" stroke="#7a7a7a" stroke-width="0.6" />
<line x1="559.7" y1="213.0" x2="561.1" y2="213.0" stroke="#7a7a7a" stroke-width="0.6" />
<line x1="559.7" y1="211.9" x2="561.1" y2="211.9" stroke="#7a7a7a" stroke-width="0.6" />
<line x1="559.7" y1="211.0" x2="561.1" y2="211.0" stroke="#7a7a7a" stroke-width="0.6" />
<line x1="559.7" y1="210.2" x2="561.1" y2="210.2" stroke="#7a7a7a" stroke-width="0.6" />
<line x1="559.7" y1="209.5" x2="561.1" y2="209.5" stroke="#7a7a7a" stroke-width="0.6" />
<line x1="559.7" y1="232.2" x2="561.1" y2="232.2" stroke="#7a7a7a" stroke-width="0.6" />
<line x1="559.7" y1="229.8" x2="561.1" y2="229.8" stroke="#7a7a7a" stroke-width="0.6" />
<line x1="559.7" y1="228.1" x2="561.1" y2="228.1" stroke="#7a7a7a" stroke-width="0.6" />
<line x1="559.7" y1="226.7" x2="561.1" y2="226.7" stroke="#7a7a7a" stroke-width="0.6" />
<line x1="559.7" y1="225.7" x2="561.1" y2="225.7" stroke="#7a7a7a" stroke-width="0.6" />
<line x1="559.7" y1="224.7" x2="561.1" y2="224.7" stroke="#7a7a7a" stroke-width="0.6" />
<line x1="559.7" y1="223.9" x2="561.1" y2="223.9" stroke="#7a7a7a" stroke-width="0.6" />
<line x1="559.7" y1="223.2" x2="561.1" y2="223.2" stroke="#7a7a7a" stroke-width="0.6" />
<line x1="559.7" y1="246.0" x2="561.1" y2="246.0" stroke="#7a7a7a" stroke-width="0.6" />
<line x1="559.7" y1="243.5" x2="561.1" y2="243.5" stroke="#7a7a7a" stroke-width="0.6" />
<line x1="559.7" y1="241.8" x2="561.1" y2="241.8" stroke="#7a7a7a" stroke-width="0.6" />
<line x1="559.7" y1="240.5" x2="561.1" y2="240.5" stroke="#7a7a7a" stroke-width="0.6" />
<line x1="559.7" y1="239.4" x2="561.1" y2="239.4" stroke="#7a7a7a" stroke-width="0.6" />
<line x1="559.7" y1="238.5" x2="561.1" y2="238.5" stroke="#7a7a7a" stroke-width="0.6" />
<line x1="559.7" y1="237.7" x2="561.1" y2="237.7" stroke="#7a7a7a" stroke-width="0.6" />
<line x1="559.7" y1="237.0" x2="561.1" y2="237.0" stroke="#7a7a7a" stroke-width="0.6" />
<line x1="559.7" y1="259.7" x2="561.1" y2="259.7" stroke="#7a7a7a" stroke-width="0.6" />
<line x1="559.7" y1="257.3" x2="561.1" y2="257.3" stroke="#7a7a7a" stroke-width="0.6" />
<line x1="559.7" y1="255.6" x2="561.1" y2="255.6" stroke="#7a7a7a" stroke-width="0.6" />
<line x1="559.7" y1="254.2" x2="561.1" y2="254.2" stroke="#7a7a7a" stroke-width="0.6" />
<line x1="559.7" y1="253.2" x2="561.1" y2="253.2" stroke="#7a7a7a" stroke-width="0.6" />
<line x1="559.7" y1="252.2" x2="561.1" y2="252.2" stroke="#7a7a7a" stroke-width="0.6" />
<line x1="559.7" y1="251.4" x2="561.1" y2="251.4" stroke="#7a7a7a" stroke-width="0.6" />
<line x1="559.7" y1="250.7" x2="561.1" y2="250.7" stroke="#7a7a7a" stroke-width="0.6" />
<line x1="559.7" y1="273.5" x2="561.1" y2="273.5" stroke="#7a7a7a" stroke-width="0.6" />
<line x1="559.7" y1="271.0" x2="561.1" y2="271.0" stroke="#7a7a7a" stroke-width="0.6" />
<line x1="559.7" y1="269.3" x2="561.1" y2="269.3" stroke="#7a7a7a" stroke-width="0.6" />
<line x1="559.7" y1="268.0" x2="561.1" y2="268.0" stroke="#7a7a7a" stroke-width="0.6" />
<line x1="559.7" y1="266.9" x2="561.1" y2="266.9" stroke="#7a7a7a" stroke-width="0.6" />
<line x1="559.7" y1="266.0" x2="561.1" y2="266.0" stroke="#7a7a7a" stroke-width="0.6" />
<line x1="559.7" y1="265.2" x2="561.1" y2="265.2" stroke="#7a7a7a" stroke-width="0.6" />
<line x1="559.7" y1="264.5" x2="561.1" y2="264.5" stroke="#7a7a7a" stroke-width="0.6" />
<line x1="559.7" y1="287.2" x2="561.1" y2="287.2" stroke="#7a7a7a" stroke-width="0.6" />
<line x1="559.7" y1="284.8" x2="561.1" y2="284.8" stroke="#7a7a7a" stroke-width="0.6" />
<line x1="559.7" y1="283.1" x2="561.1" y2="283.1" stroke="#7a7a7a" stroke-width="0.6" />
<line x1="559.7" y1="281.7" x2="561.1" y2="281.7" stroke="#7a7a7a" stroke-width="0.6" />
<line x1="559.7" y1="280.7" x2="561.1" y2="280.7" stroke="#7a7a7a" stroke-width="0.6" />
<line x1="559.7" y1="279.7" x2="561.1" y2="279.7" stroke="#7a7a7a" stroke-width="0.6" />
<line x1="559.7" y1="278.9" x2="561.1" y2="278.9" stroke="#7a7a7a" stroke-width="0.6" />
<line x1="559.7" y1="278.2" x2="561.1" y2="278.2" stroke="#7a7a7a" stroke-width="0.6" />
<line x1="559.7" y1="301.0" x2="561.1" y2="301.0" stroke="#7a7a7a" stroke-width="0.6" />
<line x1="559.7" y1="298.5" x2="561.1" y2="298.5" stroke="#7a7a7a" stroke-width="0.6" />
<line x1="559.7" y1="296.8" x2="561.1" y2="296.8" stroke="#7a7a7a" stroke-width="0.6" />
<line x1="559.7" y1="295.5" x2="561.1" y2="295.5" stroke="#7a7a7a" stroke-width="0.6" />
<line x1="559.7" y1="294.4" x2="561.1" y2="294.4" stroke="#7a7a7a" stroke-width="0.6" />
<line x1="559.7" y1="293.5" x2="561.1" y2="293.5" stroke="#7a7a7a" stroke-width="0.6" />
<line x1="559.7" y1="292.7" x2="561.1" y2="292.7" stroke="#7a7a7a" stroke-width="0.6" />
<line x1="559.7" y1="292.0" x2="561.1" y2="292.0" stroke="#7a7a7a" stroke-width="0.6" />
<line x1="559.7" y1="314.7" x2="561.1" y2="314.7" stroke="#7a7a7a" stroke-width="0.6" />
<line x1="559.7" y1="312.3" x2="561.1" y2="312.3" stroke="#7a7a7a" stroke-width="0.6" />
<line x1="559.7" y1="310.6" x2="561.1" y2="310.6" stroke="#7a7a7a" stroke-width="0.6" />
<line x1="559.7" y1="309.2" x2="561.1" y2="309.2" stroke="#7a7a7a" stroke-width="0.6" />
<line x1="559.7" y1="308.2" x2="561.1" y2="308.2" stroke="#7a7a7a" stroke-width="0.6" />
<line x1="559.7" y1="307.2" x2="561.1" y2="307.2" stroke="#7a7a7a" stroke-width="0.6" />
<line x1="559.7" y1="306.4" x2="561.1" y2="306.4" stroke="#7a7a7a" stroke-width="0.6" />
<line x1="559.7" y1="305.7" x2="561.1" y2="305.7" stroke="#7a7a7a" stroke-width="0.6" />
<line x1="559.7" y1="328.5" x2="561.1" y2="328.5" stroke="#7a7a7a" stroke-width="0.6" />
<line x1="559.7" y1="326.0" x2="561.1" y2="326.0" stroke="#7a7a7a" stroke-width="0.6" />
<line x1="559.7" y1="324.3" x2="561.1" y2="324.3" stroke="#7a7a7a" stroke-width="0.6" />
<line x1="559.7" y1="323.0" x2="561.1" y2="323.0" stroke="#7a7a7a" stroke-width="0.6" />
<line x1="559.7" y1="321.9" x2="561.1" y2="321.9" stroke="#7a7a7a" stroke-width="0.6" />
<line x1="559.7" y1="321.0" x2="561.1" y2="321.0" stroke="#7a7a7a" stroke-width="0.6" />
<line x1="559.7" y1="320.2" x2="561.1" y2="320.2" stroke="#7a7a7a" stroke-width="0.6" />
<line x1="559.7" y1="319.5" x2="561.1" y2="319.5" stroke="#7a7a7a" stroke-width="0.6" />
<line x1="571.9" y1="333.0" x2="571.9" y2="330.2" stroke="#7a7a7a" stroke-width="0.8" />
<text x="571.9" y="342.2" font-size="8.8" text-anchor="middle" font-weight="normal" fill="#1a1a1a" >-8</text>
<line x1="596.8" y1="333.0" x2="596.8" y2="330.2" stroke="#7a7a7a" stroke-width="0.8" />
<text x="596.8" y="342.2" font-size="8.8" text-anchor="middle" font-weight="normal" fill="#1a1a1a" >-6</text>
<line x1="621.7" y1="333.0" x2="621.7" y2="330.2" stroke="#7a7a7a" stroke-width="0.8" />
<text x="621.7" y="342.2" font-size="8.8" text-anchor="middle" font-weight="normal" fill="#1a1a1a" >-4</text>
<line x1="646.6" y1="333.0" x2="646.6" y2="330.2" stroke="#7a7a7a" stroke-width="0.8" />
<text x="646.6" y="342.2" font-size="8.8" text-anchor="middle" font-weight="normal" fill="#1a1a1a" >-2</text>
<line x1="671.5" y1="333.0" x2="671.5" y2="330.2" stroke="#7a7a7a" stroke-width="0.8" />
<text x="671.5" y="342.2" font-size="8.8" text-anchor="middle" font-weight="normal" fill="#1a1a1a" >0</text>
<line x1="696.4" y1="333.0" x2="696.4" y2="330.2" stroke="#7a7a7a" stroke-width="0.8" />
<text x="696.4" y="342.2" font-size="8.8" text-anchor="middle" font-weight="normal" fill="#1a1a1a" >2</text>
<line x1="584.3" y1="333.0" x2="584.3" y2="331.4" stroke="#7a7a7a" stroke-width="0.7" />
<line x1="609.2" y1="333.0" x2="609.2" y2="331.4" stroke="#7a7a7a" stroke-width="0.7" />
<line x1="634.1" y1="333.0" x2="634.1" y2="331.4" stroke="#7a7a7a" stroke-width="0.7" />
<line x1="659.0" y1="333.0" x2="659.0" y2="331.4" stroke="#7a7a7a" stroke-width="0.7" />
<line x1="683.9" y1="333.0" x2="683.9" y2="331.4" stroke="#7a7a7a" stroke-width="0.7" />
<line x1="708.8" y1="333.0" x2="708.8" y2="331.4" stroke="#7a7a7a" stroke-width="0.7" />
<text x="637.0" y="361.2" font-size="11" text-anchor="middle" font-weight="normal" fill="#1a1a1a" >V<tspan font-size="7.5" dy="2.2">gs</tspan><tspan dy="-2.2" font-size="1">&#8203;</tspan> (V)</text>
<text x="533.0" y="271.0" font-size="11" text-anchor="middle" font-weight="normal" fill="#1a1a1a" transform="rotate(-90 533.0 271.0)" >I<tspan font-size="7.5" dy="2.2">ds</tspan><tspan dy="-2.2" font-size="1">&#8203;</tspan> (A)</text>
<line x1="563.0" y1="229.2" x2="624.0" y2="229.2" stroke="#e020e0" stroke-width="1.3" stroke-dasharray="6.7 3.4"/>
<path d="M584.5 229.7 L592.2 230.4 L597.5 230.0 L604.5 230.7 L611.5 231.1 L618.5 231.4 L625.5 232.5 L632.5 234.2 L639.5 236.7 L646.5 239.8 L653.5 243.7 L658.7 247.2 L664.0 251.7 L668.2 256.6 L671.7 262.2 L674.5 269.2 L676.9 278.7 L679.0 290.2 L680.7 302.5 L682.5 314.7 L683.9 324.2 L684.9 330.5 L686.0 326.3 L686.7 323.5 L687.4 328.7 L688.1 332.6 L689.1 327.0 L690.2 324.2 L691.2 325.2 L692.6 318.2 L694.7 313.0 L697.2 308.4 L700.7 304.9 L703.5 301.8 L705.9 301.1 L708.4 300.4 L710.5 300.0" fill="none" stroke="#f58a2c" stroke-width="1.3" stroke-linejoin="round"/>
<line x1="651.7" y1="219.6" x2="671.0" y2="219.6" stroke="#f58a2c" stroke-width="1.3" />
<text x="672.0" y="222.6" font-size="8.3" text-anchor="start" font-weight="normal" fill="#1a1a1a" >V<tspan font-size="5.6" dy="1.6">ds</tspan><tspan dy="-1.6" font-size="1">&#8203;</tspan> = -1 V</text>
<text x="568.4" y="287.8" font-size="11.2" text-anchor="start" font-weight="normal" fill="#1a1a1a" >SS = 133 mV/dec</text>
<text x="568.4" y="308.5" font-size="11.2" text-anchor="start" font-weight="normal" fill="#1a1a1a" textLength="76.5">I<tspan font-size="7.2" dy="2.2">on</tspan><tspan dy="-2.2" font-size="1">&#8203;</tspan>  = 2.8×10<tspan font-size="6.8" dy="-4">-7</tspan><tspan dy="4" font-size="1">&#8203;</tspan> A</text>
<defs>
<linearGradient id="nwg" x1="0" y1="0" x2="0.28" y2="1">
 <stop offset="0" stop-color="#8fdcb4"/><stop offset="0.3" stop-color="#b4f3d4"/><stop offset="0.65" stop-color="#9fe8c3"/><stop offset="1" stop-color="#7cc9a0"/>
</linearGradient>
<linearGradient id="nwg2" x1="0" y1="0" x2="0.28" y2="1">
 <stop offset="0" stop-color="#93deb6"/><stop offset="0.35" stop-color="#b6f4d6"/><stop offset="0.7" stop-color="#a0e8c4"/><stop offset="1" stop-color="#80cda4"/>
</linearGradient>
</defs>
<polygon points="315.7,129.5 436.1,168.5 436.1,178.4 316.6,134.7" fill="#bcbcbc" stroke="#bcbcbc" stroke-width="0.6" stroke-linejoin="round" />
<polygon points="436.1,168.5 504.3,112.3 504.0,119.0 436.1,178.4" fill="#dadada" stroke="#dadada" stroke-width="0.6" stroke-linejoin="round" />
<polygon points="314.6,121.0 436.1,158.7 436.1,168.5 315.7,129.5" fill="#7bb3c0" stroke="#7bb3c0" stroke-width="0.6" stroke-linejoin="round" />
<polygon points="436.1,158.7 505.8,104.9 504.3,112.3 436.1,168.5" fill="#8ccdd6" stroke="#8ccdd6" stroke-width="0.6" stroke-linejoin="round" />
<polygon points="425.0,64.8 393.8,78.8 393.8,85.8 377.3,95.7 377.3,102.7 360.7,113.0 360.7,120.0 343.5,128.7 399.0,146.7 440.0,150.0 470.0,72.0" fill="#a7e4ed" stroke="#a7e4ed" stroke-width="0.6" stroke-linejoin="round" />
<polygon points="393.8,78.8 437.0,88.3 437.0,95.3 393.8,85.8" fill="#7db4c2" stroke="#7db4c2" stroke-width="0.6" stroke-linejoin="round" />
<polygon points="377.3,95.7 426.0,108.8 426.0,115.8 377.3,102.7" fill="#7db4c2" stroke="#7db4c2" stroke-width="0.6" stroke-linejoin="round" />
<polygon points="360.7,113.0 410.0,127.1 410.0,134.1 360.7,120.0" fill="#7db4c2" stroke="#7db4c2" stroke-width="0.6" stroke-linejoin="round" />
<polygon points="376.2,79.4 425.0,59.6 425.0,64.8 393.8,78.8 393.8,85.8 377.3,95.7 377.3,102.7 360.7,113.0 360.7,120.0 343.5,128.7 342.6,128.7 342.1,118.5 360.4,107.1 359.9,97.7 376.2,88.5" fill="#4c8bc5" stroke="#4c8bc5" stroke-width="0.6" stroke-linejoin="round" />
<polygon points="348.3,73.3 399.9,55.2 425.0,59.6 376.2,79.4" fill="#5b9fd7" stroke="#5b9fd7" stroke-width="0.6" stroke-linejoin="round" />
<polygon points="348.3,73.3 376.2,79.4 376.2,88.5 349.0,83.4" fill="#4580b4" stroke="#4580b4" stroke-width="0.6" stroke-linejoin="round" />
<polygon points="331.4,90.8 349.0,83.4 376.2,88.5 359.9,97.7" fill="#5b9fd7" stroke="#5b9fd7" stroke-width="0.6" stroke-linejoin="round" />
<polygon points="331.4,90.8 359.9,97.7 360.4,107.1 332.1,101.1" fill="#4580b4" stroke="#4580b4" stroke-width="0.6" stroke-linejoin="round" />
<polygon points="313.5,110.0 332.1,101.1 360.4,107.1 342.1,118.5" fill="#5b9fd7" stroke="#5b9fd7" stroke-width="0.6" stroke-linejoin="round" />
<polygon points="313.5,110.0 342.1,118.5 342.6,128.7 314.6,121.0" fill="#4580b4" stroke="#4580b4" stroke-width="0.6" stroke-linejoin="round" />
<linearGradient id="g1" gradientUnits="userSpaceOnUse" x1="383.8" y1="82.8" x2="381.8" y2="92.5"><stop offset="0" stop-color="#a4eac6"/><stop offset="0.28" stop-color="#b3f1d3"/><stop offset="0.62" stop-color="#9fe6c1"/><stop offset="1" stop-color="#84cfa7"/></linearGradient>
<line x1="381.4" y1="92.7" x2="431.0" y2="103.3" stroke="#2f5f53" stroke-width="1.1" opacity="0.7"/>
<path d="M383.8 82.8 L432.5 92.5 L431.0 102.8 L380.4 92.2 A5.00 2.80 109.9 0 1 383.8 82.8 Z" fill="url(#g1)" stroke="url(#g1)" stroke-width="0.5"/>
<linearGradient id="g2" gradientUnits="userSpaceOnUse" x1="367.6" y1="98.9" x2="364.9" y2="110.9"><stop offset="0" stop-color="#a4eac6"/><stop offset="0.28" stop-color="#b3f1d3"/><stop offset="0.62" stop-color="#9fe6c1"/><stop offset="1" stop-color="#84cfa7"/></linearGradient>
<line x1="366.2" y1="111.5" x2="415.0" y2="123.1" stroke="#2f5f53" stroke-width="1.1" opacity="0.7"/>
<path d="M367.6 98.9 L417.0 109.6 L415.0 122.6 L365.2 111.0 A6.17 2.80 101.2 0 1 367.6 98.9 Z" fill="url(#g2)" stroke="url(#g2)" stroke-width="0.5"/>
<linearGradient id="g3" gradientUnits="userSpaceOnUse" x1="353.1" y1="116.4" x2="350.0" y2="127.5"><stop offset="0" stop-color="#a4eac6"/><stop offset="0.28" stop-color="#b3f1d3"/><stop offset="0.62" stop-color="#9fe6c1"/><stop offset="1" stop-color="#84cfa7"/></linearGradient>
<line x1="348.6" y1="127.3" x2="400.0" y2="143.8" stroke="#2f5f53" stroke-width="1.1" opacity="0.7"/>
<path d="M353.1 116.4 L404.0 129.3 L400.0 143.3 L347.6 126.8 A5.88 2.80 117.9 0 1 353.1 116.4 Z" fill="url(#g3)" stroke="url(#g3)" stroke-width="0.5"/>
<polygon points="467.3,101.1 507.3,73.0 505.8,104.9 436.1,158.7 436.1,146.2 451.5,132.5 452.4,121.2 467.0,110.0" fill="#4c8bc5" stroke="#4c8bc5" stroke-width="0.6" stroke-linejoin="round" />
<polygon points="430.9,93.0 473.9,67.5 507.3,73.0 467.3,101.1" fill="#5b9fd7" stroke="#5b9fd7" stroke-width="0.6" stroke-linejoin="round" />
<polygon points="430.9,93.0 467.3,101.1 467.0,110.0 430.9,103.4" fill="#4580b4" stroke="#4580b4" stroke-width="0.6" stroke-linejoin="round" />
<polygon points="414.6,113.0 430.9,103.4 467.0,110.0 452.4,121.2" fill="#5b9fd7" stroke="#5b9fd7" stroke-width="0.6" stroke-linejoin="round" />
<polygon points="414.6,113.0 452.4,121.2 451.8,132.2 415.0,124.2" fill="#4580b4" stroke="#4580b4" stroke-width="0.6" stroke-linejoin="round" />
<polygon points="398.4,135.0 415.0,124.2 451.8,132.2 436.1,146.2" fill="#5b9fd7" stroke="#5b9fd7" stroke-width="0.6" stroke-linejoin="round" />
<polygon points="398.4,135.0 436.1,146.2 436.1,158.7 399.1,147.2" fill="#4580b4" stroke="#4580b4" stroke-width="0.6" stroke-linejoin="round" />
<polygon points="315.7,306.9 436.1,345.9 436.1,355.8 316.6,312.1" fill="#bcbcbc" stroke="#bcbcbc" stroke-width="0.6" stroke-linejoin="round" />
<polygon points="436.1,345.9 504.3,289.7 504.0,296.4 436.1,355.8" fill="#dadada" stroke="#dadada" stroke-width="0.6" stroke-linejoin="round" />
<polygon points="314.6,298.4 436.1,336.1 436.1,345.9 315.7,306.9" fill="#7bb3c0" stroke="#7bb3c0" stroke-width="0.6" stroke-linejoin="round" />
<polygon points="436.1,336.1 505.8,282.3 504.3,289.7 436.1,345.9" fill="#8ccdd6" stroke="#8ccdd6" stroke-width="0.6" stroke-linejoin="round" />
<polygon points="425.0,242.2 393.8,256.2 393.8,263.2 377.3,273.1 377.3,280.1 360.7,290.4 360.7,297.4 343.5,306.1 399.0,324.1 440.0,327.4 470.0,249.4" fill="#a7e4ed" stroke="#a7e4ed" stroke-width="0.6" stroke-linejoin="round" />
<polygon points="393.8,256.2 437.0,265.7 437.0,272.7 393.8,263.2" fill="#7db4c2" stroke="#7db4c2" stroke-width="0.6" stroke-linejoin="round" />
<polygon points="377.3,273.1 426.0,286.2 426.0,293.2 377.3,280.1" fill="#7db4c2" stroke="#7db4c2" stroke-width="0.6" stroke-linejoin="round" />
<polygon points="360.7,290.4 410.0,304.5 410.0,311.5 360.7,297.4" fill="#7db4c2" stroke="#7db4c2" stroke-width="0.6" stroke-linejoin="round" />
<polygon points="376.2,256.8 425.0,237.0 425.0,242.2 393.8,256.2 393.8,263.2 377.3,273.1 377.3,280.1 360.7,290.4 360.7,297.4 343.5,306.1 342.6,306.1 342.1,295.9 360.4,284.5 359.9,275.1 376.2,265.9" fill="#4c8bc5" stroke="#4c8bc5" stroke-width="0.6" stroke-linejoin="round" />
<polygon points="348.3,250.7 399.9,232.6 425.0,237.0 376.2,256.8" fill="#5b9fd7" stroke="#5b9fd7" stroke-width="0.6" stroke-linejoin="round" />
<polygon points="348.3,250.7 376.2,256.8 376.2,265.9 349.0,260.8" fill="#4580b4" stroke="#4580b4" stroke-width="0.6" stroke-linejoin="round" />
<polygon points="331.4,268.2 349.0,260.8 376.2,265.9 359.9,275.1" fill="#5b9fd7" stroke="#5b9fd7" stroke-width="0.6" stroke-linejoin="round" />
<polygon points="331.4,268.2 359.9,275.1 360.4,284.5 332.1,278.5" fill="#4580b4" stroke="#4580b4" stroke-width="0.6" stroke-linejoin="round" />
<polygon points="313.5,287.4 332.1,278.5 360.4,284.5 342.1,295.9" fill="#5b9fd7" stroke="#5b9fd7" stroke-width="0.6" stroke-linejoin="round" />
<polygon points="313.5,287.4 342.1,295.9 342.6,306.1 314.6,298.4" fill="#4580b4" stroke="#4580b4" stroke-width="0.6" stroke-linejoin="round" />
<linearGradient id="g4" gradientUnits="userSpaceOnUse" x1="384.0" y1="262.4" x2="382.9" y2="267.8"><stop offset="0" stop-color="#a4eac6"/><stop offset="0.28" stop-color="#b3f1d3"/><stop offset="0.62" stop-color="#9fe6c1"/><stop offset="1" stop-color="#84cfa7"/></linearGradient>
<line x1="384.0" y1="268.3" x2="432.0" y2="278.1" stroke="#2f5f53" stroke-width="1.1" opacity="0.7"/>
<path d="M384.0 262.4 L433.0 272.2 L432.0 277.6 L383.0 267.8 A2.75 1.30 100.5 0 1 384.0 262.4 Z" fill="url(#g4)" stroke="url(#g4)" stroke-width="0.5"/>
<linearGradient id="g5" gradientUnits="userSpaceOnUse" x1="366.8" y1="278.9" x2="365.6" y2="284.4"><stop offset="0" stop-color="#a4eac6"/><stop offset="0.28" stop-color="#b3f1d3"/><stop offset="0.62" stop-color="#9fe6c1"/><stop offset="1" stop-color="#84cfa7"/></linearGradient>
<line x1="366.7" y1="284.9" x2="416.0" y2="295.7" stroke="#2f5f53" stroke-width="1.1" opacity="0.7"/>
<path d="M366.8 278.9 L417.0 289.7 L416.0 295.2 L365.7 284.4 A2.80 1.30 101.3 0 1 366.8 278.9 Z" fill="url(#g5)" stroke="url(#g5)" stroke-width="0.5"/>
<linearGradient id="g6" gradientUnits="userSpaceOnUse" x1="350.8" y1="296.6" x2="349.5" y2="302.1"><stop offset="0" stop-color="#a4eac6"/><stop offset="0.28" stop-color="#b3f1d3"/><stop offset="0.62" stop-color="#9fe6c1"/><stop offset="1" stop-color="#84cfa7"/></linearGradient>
<line x1="350.6" y1="302.6" x2="401.0" y2="314.4" stroke="#2f5f53" stroke-width="1.1" opacity="0.7"/>
<path d="M350.8 296.6 L402.0 308.4 L401.0 313.9 L349.6 302.1 A2.81 1.30 102.3 0 1 350.8 296.6 Z" fill="url(#g6)" stroke="url(#g6)" stroke-width="0.5"/>
<polygon points="467.3,278.5 507.3,250.4 505.8,282.3 436.1,336.1 436.1,323.6 451.5,309.9 452.4,298.6 467.0,287.4" fill="#4c8bc5" stroke="#4c8bc5" stroke-width="0.6" stroke-linejoin="round" />
<polygon points="430.9,270.4 473.9,244.9 507.3,250.4 467.3,278.5" fill="#5b9fd7" stroke="#5b9fd7" stroke-width="0.6" stroke-linejoin="round" />
<polygon points="430.9,270.4 467.3,278.5 467.0,287.4 430.9,280.8" fill="#4580b4" stroke="#4580b4" stroke-width="0.6" stroke-linejoin="round" />
<polygon points="414.6,290.4 430.9,280.8 467.0,287.4 452.4,298.6" fill="#5b9fd7" stroke="#5b9fd7" stroke-width="0.6" stroke-linejoin="round" />
<polygon points="414.6,290.4 452.4,298.6 451.8,309.6 415.0,301.6" fill="#4580b4" stroke="#4580b4" stroke-width="0.6" stroke-linejoin="round" />
<polygon points="398.4,312.4 415.0,301.6 451.8,309.6 436.1,323.6" fill="#5b9fd7" stroke="#5b9fd7" stroke-width="0.6" stroke-linejoin="round" />
<polygon points="398.4,312.4 436.1,323.6 436.1,336.1 399.1,324.6" fill="#4580b4" stroke="#4580b4" stroke-width="0.6" stroke-linejoin="round" />
<defs><marker id="ah" viewBox="0 0 10 10" refX="8.5" refY="5" markerWidth="5.5" markerHeight="5.5" orient="auto-start-reverse"><path d="M1 1 L9 5 L1 9" fill="none" stroke="#1a1a1a" stroke-width="1.8"/></marker><marker id="ahr" viewBox="0 0 10 10" refX="8.5" refY="5" markerWidth="5" markerHeight="5" orient="auto-start-reverse"><path d="M1 1 L9 5 L1 9" fill="none" stroke="#f01818" stroke-width="2"/></marker></defs>
<text x="419.1" y="76.0" font-size="10.3" text-anchor="start" font-weight="normal" fill="#1a1a1a" >L<tspan font-size="7" dy="2.4">ch</tspan><tspan dy="-2.4" font-size="1">&#8203;</tspan></text>
<text x="449.0" y="90.6" font-size="11.2" text-anchor="start" font-weight="normal" fill="#1a1a1a" >Pt/Al film</text>
<path d="M394.5 80.5 L435 90" fill="none" stroke="#f01818" stroke-width="1.3" marker-start="url(#ahr)" marker-end="url(#ahr)"/>
<path d="M354.6 116.4 A6.18 3.40 117.9 0 0 347.0 127.4" fill="none" stroke="#f01818" stroke-width="1.5" stroke-linecap="round"/>
<path d="M351 157.6 C364 155.5, 379 149, 372 139 C368 133.5, 361 129.5, 354 126" fill="none" stroke="#1a1a1a" stroke-width="1.1" marker-end="url(#ah)"/>
<text x="328.5" y="168.8" font-size="11.1" text-anchor="start" font-weight="normal" fill="#1a1a1a" >Contact edge</text>
<text x="347.5" y="272.8" font-size="10.3" text-anchor="start" font-weight="normal" fill="#1a1a1a" >D</text>
<text x="436.5" y="293.8" font-size="10.3" text-anchor="start" font-weight="normal" fill="#1a1a1a" >S</text>
<path d="M352.3 296.3 A3.2 2.6 100 0 0 349.3 302.6" fill="none" stroke="#f01818" stroke-width="1.7" stroke-linecap="round"/>
<path d="M350 333 C380 328, 378 308, 352.5 300" fill="none" stroke="#1a1a1a" stroke-width="1.1" marker-end="url(#ah)"/>
<text x="328.5" y="351.3" font-size="11.1" text-anchor="start" font-weight="normal" fill="#1a1a1a" >Contact edge</text>
<polygon points="31.7,123.2 152.4,163.9 152.4,173.6 32.4,129.1" fill="#b2b2b2" stroke="#b2b2b2" stroke-width="0.6" stroke-linejoin="round" />
<polygon points="152.4,163.9 219.9,107.6 219.1,114.3 152.4,173.6" fill="#d6d6d6" stroke="#d6d6d6" stroke-width="0.6" stroke-linejoin="round" />
<polygon points="30.2,110.6 58.4,117.8 88.1,123.8 92.6,132.0 114.7,138.1 152.4,154.3 152.4,163.9 31.7,123.2" fill="#6fa8b5" stroke="#6fa8b5" stroke-width="0.6" stroke-linejoin="round" />
<polygon points="152.4,154.3 220.6,100.9 219.9,107.6 152.4,163.9" fill="#85c5cf" stroke="#85c5cf" stroke-width="0.6" stroke-linejoin="round" />
<polygon points="141.3,54.4 110.5,69.6 110.5,77.1 93.4,84.2 93.4,91.7 76.3,101.5 76.3,109.0 58.4,117.8 88.1,123.8 92.6,132.0 118.0,139.0 150.0,90.0 184.0,67.5 166.8,62.1 161.3,57.2" fill="#a3e1ec" stroke="#a3e1ec" stroke-width="0.6" stroke-linejoin="round" />
<polygon points="141.3,54.4 161.3,57.2 133.0,72.2 110.5,69.6" fill="#9dd9e5" stroke="#9dd9e5" stroke-width="0.6" stroke-linejoin="round" />
<polygon points="161.3,57.2 166.8,62.1 139.0,79.2 133.0,72.2" fill="#b1edf6" stroke="#b1edf6" stroke-width="0.6" stroke-linejoin="round" />
<polygon points="110.5,77.1 133.0,79.7 117.8,88.5 93.4,84.2" fill="#9dd9e5" stroke="#9dd9e5" stroke-width="0.6" stroke-linejoin="round" />
<polygon points="133.0,79.7 139.0,86.7 123.1,94.2 117.8,88.5" fill="#b1edf6" stroke="#b1edf6" stroke-width="0.6" stroke-linejoin="round" />
<polygon points="93.4,91.7 117.8,96.0 100.2,105.8 76.3,101.5" fill="#9dd9e5" stroke="#9dd9e5" stroke-width="0.6" stroke-linejoin="round" />
<polygon points="117.8,96.0 123.1,101.7 106.9,113.5 100.2,105.8" fill="#b1edf6" stroke="#b1edf6" stroke-width="0.6" stroke-linejoin="round" />
<polygon points="76.3,109.0 100.2,113.3 88.1,123.8 58.4,117.8" fill="#9dd9e5" stroke="#9dd9e5" stroke-width="0.6" stroke-linejoin="round" />
<polygon points="100.2,113.3 106.9,121.0 92.6,132.0 88.1,123.8" fill="#b1edf6" stroke="#b1edf6" stroke-width="0.6" stroke-linejoin="round" />
<polygon points="110.5,69.6 133.0,72.2 139.0,79.2 150.0,82.6 150.0,90.1 139.0,86.7 133.0,79.7 110.5,77.1" fill="#72a7b5" stroke="#72a7b5" stroke-width="0.6" stroke-linejoin="round" />
<polygon points="93.4,84.2 117.8,88.5 123.1,94.2 135.0,96.8 135.0,104.3 123.1,101.7 117.8,96.0 93.4,91.7" fill="#72a7b5" stroke="#72a7b5" stroke-width="0.6" stroke-linejoin="round" />
<polygon points="76.3,101.5 100.2,105.8 106.9,113.5 123.0,118.3 123.0,125.8 106.9,121.0 100.2,113.3 76.3,109.0" fill="#72a7b5" stroke="#72a7b5" stroke-width="0.6" stroke-linejoin="round" />
<polygon points="92.2,68.9 141.3,49.6 141.3,54.4 110.5,69.6 110.5,77.1 93.4,84.2 93.4,91.7 76.3,101.5 76.3,109.0 58.4,117.8 58.4,117.8 57.1,106.7 75.6,97.8 75.6,85.2 92.2,77.8" fill="#2569a4" stroke="#2569a4" stroke-width="0.6" stroke-linejoin="round" />
<polygon points="64.0,62.2 114.9,45.2 141.3,49.6 92.2,68.9" fill="#2b7bb9" stroke="#2b7bb9" stroke-width="0.6" stroke-linejoin="round" />
<polygon points="64.0,62.2 92.2,68.9 92.2,77.8 64.5,73.4" fill="#1f5c8f" stroke="#1f5c8f" stroke-width="0.6" stroke-linejoin="round" />
<polygon points="46.7,79.3 64.5,73.4 92.2,77.8 75.6,85.2" fill="#2b7bb9" stroke="#2b7bb9" stroke-width="0.6" stroke-linejoin="round" />
<polygon points="46.7,79.3 75.6,85.2 75.6,97.8 47.4,90.4" fill="#1f5c8f" stroke="#1f5c8f" stroke-width="0.6" stroke-linejoin="round" />
<polygon points="28.6,98.6 47.4,90.4 75.6,97.8 57.1,106.7" fill="#2b7bb9" stroke="#2b7bb9" stroke-width="0.6" stroke-linejoin="round" />
<polygon points="28.6,98.6 57.1,106.7 58.4,117.8 30.2,110.6" fill="#1f5c8f" stroke="#1f5c8f" stroke-width="0.6" stroke-linejoin="round" />
<linearGradient id="g7" gradientUnits="userSpaceOnUse" x1="136.4" y1="79.0" x2="133.4" y2="89.7"><stop offset="0" stop-color="#9de6c1"/><stop offset="0.28" stop-color="#a8edca"/><stop offset="0.65" stop-color="#98e0ba"/><stop offset="1" stop-color="#78c49c"/></linearGradient>
<line x1="134.2" y1="90.1" x2="147.0" y2="94.1" stroke="#2f5f53" stroke-width="1.1" opacity="0.7"/>
<path d="M136.4 79.0 L148.0 82.2 L147.0 93.6 L133.2 89.6 A5.54 2.40 106.8 0 1 136.4 79.0 Z" fill="url(#g7)" stroke="url(#g7)" stroke-width="0.5"/>
<line x1="122.6" y1="77.5" x2="134.2" y2="84.6" stroke="#5f9c83" stroke-width="3.6" stroke-linecap="round"/>
<line x1="121.6" y1="76.2" x2="134.7" y2="84.2" stroke="#9fe6c0" stroke-width="3.8" stroke-linecap="round"/>
<linearGradient id="g8" gradientUnits="userSpaceOnUse" x1="105.4" y1="68.2" x2="103.4" y2="78.2"><stop offset="0" stop-color="#9de6c1"/><stop offset="0.28" stop-color="#a8edca"/><stop offset="0.65" stop-color="#98e0ba"/><stop offset="1" stop-color="#78c49c"/></linearGradient>
<line x1="104.3" y1="78.7" x2="117.0" y2="81.4" stroke="#2f5f53" stroke-width="1.1" opacity="0.7"/>
<path d="M105.4 68.2 L120.4 71.3 L117.0 80.9 L103.3 78.2 A5.11 2.40 101.9 0 1 105.4 68.2 Z" fill="url(#g8)" stroke="url(#g8)" stroke-width="0.5"/>
<polygon points="120.4,71.3 123.4,75.0 122.2,78.6 117.0,80.9" fill="#b4f3d5" stroke="#b4f3d5" stroke-width="0.4" stroke-linejoin="round" />
<polygon points="120.4,71.3 123.4,75.0 122.6,76.8 119.0,75.6" fill="#c9f9e4" stroke="#c9f9e4" stroke-width="0.2" stroke-linejoin="round" />
<polygon points="117.0,80.9 122.2,78.6 122.6,76.8 119.0,75.6" fill="#9fe3c0" stroke="#9fe3c0" stroke-width="0.2" stroke-linejoin="round" />
<linearGradient id="g9" gradientUnits="userSpaceOnUse" x1="118.4" y1="97.2" x2="115.4" y2="107.5"><stop offset="0" stop-color="#9de6c1"/><stop offset="0.28" stop-color="#a8edca"/><stop offset="0.65" stop-color="#98e0ba"/><stop offset="1" stop-color="#78c49c"/></linearGradient>
<line x1="116.8" y1="108.1" x2="132.0" y2="113.1" stroke="#2f5f53" stroke-width="1.1" opacity="0.7"/>
<path d="M118.4 97.2 L135.0 101.6 L132.0 112.6 L115.8 107.6 A5.36 2.40 104.0 0 1 118.4 97.2 Z" fill="url(#g9)" stroke="url(#g9)" stroke-width="0.5"/>
<line x1="104.0" y1="95.6" x2="116.7" y2="103.4" stroke="#5f9c83" stroke-width="3.8" stroke-linecap="round"/>
<line x1="103.0" y1="94.3" x2="117.2" y2="103.0" stroke="#9fe6c0" stroke-width="4.0" stroke-linecap="round"/>
<linearGradient id="g10" gradientUnits="userSpaceOnUse" x1="86.7" y1="84.2" x2="84.1" y2="96.0"><stop offset="0" stop-color="#9de6c1"/><stop offset="0.28" stop-color="#a8edca"/><stop offset="0.65" stop-color="#98e0ba"/><stop offset="1" stop-color="#78c49c"/></linearGradient>
<line x1="85.3" y1="96.5" x2="98.3" y2="99.3" stroke="#2f5f53" stroke-width="1.1" opacity="0.7"/>
<path d="M86.7 84.2 L100.8 87.6 L98.3 98.8 L84.3 96.0 A6.02 2.40 101.5 0 1 86.7 84.2 Z" fill="url(#g10)" stroke="url(#g10)" stroke-width="0.5"/>
<polygon points="100.8,87.6 104.8,93.0 103.6,96.8 98.3,98.8" fill="#b4f3d5" stroke="#b4f3d5" stroke-width="0.4" stroke-linejoin="round" />
<polygon points="100.8,87.6 104.8,93.0 104.0,94.9 99.8,92.7" fill="#c9f9e4" stroke="#c9f9e4" stroke-width="0.2" stroke-linejoin="round" />
<polygon points="98.3,98.8 103.6,96.8 104.0,94.9 99.8,92.7" fill="#9fe3c0" stroke="#9fe3c0" stroke-width="0.2" stroke-linejoin="round" />
<linearGradient id="g11" gradientUnits="userSpaceOnUse" x1="100.6" y1="116.6" x2="96.9" y2="128.4"><stop offset="0" stop-color="#9de6c1"/><stop offset="0.28" stop-color="#a8edca"/><stop offset="0.65" stop-color="#98e0ba"/><stop offset="1" stop-color="#78c49c"/></linearGradient>
<line x1="97.9" y1="128.9" x2="115.5" y2="134.7" stroke="#2f5f53" stroke-width="1.1" opacity="0.7"/>
<path d="M100.6 116.6 L118.5 122.3 L115.5 134.2 L96.9 128.4 A6.18 2.40 107.4 0 1 100.6 116.6 Z" fill="url(#g11)" stroke="url(#g11)" stroke-width="0.5"/>
<line x1="88.0" y1="113.8" x2="99.7" y2="121.3" stroke="#5f9c83" stroke-width="3.8" stroke-linecap="round"/>
<line x1="87.0" y1="112.5" x2="100.2" y2="120.9" stroke="#9fe6c0" stroke-width="4.0" stroke-linecap="round"/>
<linearGradient id="g12" gradientUnits="userSpaceOnUse" x1="68.4" y1="101.9" x2="65.0" y2="113.8"><stop offset="0" stop-color="#9de6c1"/><stop offset="0.28" stop-color="#a8edca"/><stop offset="0.65" stop-color="#98e0ba"/><stop offset="1" stop-color="#78c49c"/></linearGradient>
<line x1="66.2" y1="114.4" x2="80.7" y2="118.5" stroke="#2f5f53" stroke-width="1.1" opacity="0.7"/>
<path d="M68.4 101.9 L84.4 106.8 L80.7 118.0 L65.2 113.9 A6.21 2.40 104.9 0 1 68.4 101.9 Z" fill="url(#g12)" stroke="url(#g12)" stroke-width="0.5"/>
<polygon points="84.4,106.8 88.8,111.2 87.6,115.0 80.7,118.0" fill="#b4f3d5" stroke="#b4f3d5" stroke-width="0.4" stroke-linejoin="round" />
<polygon points="84.4,106.8 88.8,111.2 88.0,113.1 82.9,111.9" fill="#c9f9e4" stroke="#c9f9e4" stroke-width="0.2" stroke-linejoin="round" />
<polygon points="80.7,118.0 87.6,115.0 88.0,113.1 82.9,111.9" fill="#9fe3c0" stroke="#9fe3c0" stroke-width="0.2" stroke-linejoin="round" />
<polygon points="182.1,94.1 222.6,68.2 220.6,100.9 152.4,154.3 152.4,142.4 167.3,129.1 168.0,117.1 182.1,106.0" fill="#2569a4" stroke="#2569a4" stroke-width="0.6" stroke-linejoin="round" />
<polygon points="146.5,87.1 190.2,62.5 222.6,68.2 182.1,94.1" fill="#2b7bb9" stroke="#2b7bb9" stroke-width="0.6" stroke-linejoin="round" />
<polygon points="146.5,87.1 182.1,94.1 182.1,106.0 146.9,97.8" fill="#1f5c8f" stroke="#1f5c8f" stroke-width="0.6" stroke-linejoin="round" />
<polygon points="130.9,108.2 146.9,97.8 182.1,106.0 168.0,117.1" fill="#2b7bb9" stroke="#2b7bb9" stroke-width="0.6" stroke-linejoin="round" />
<polygon points="130.9,108.2 168.0,117.1 167.3,129.1 131.7,119.5" fill="#1f5c8f" stroke="#1f5c8f" stroke-width="0.6" stroke-linejoin="round" />
<polygon points="114.0,129.8 131.7,119.5 167.3,129.1 152.4,142.4" fill="#2b7bb9" stroke="#2b7bb9" stroke-width="0.6" stroke-linejoin="round" />
<polygon points="114.0,129.8 152.4,142.4 152.4,154.3 115.4,142.4" fill="#1f5c8f" stroke="#1f5c8f" stroke-width="0.6" stroke-linejoin="round" />
<text x="133.0" y="69.2" font-size="10.3" text-anchor="start" font-weight="normal" fill="#1a1a1a" >L<tspan font-size="7.4" dy="2.4">ch</tspan><tspan dy="-2.4" font-size="1">&#8203;</tspan></text>
<path d="M122.6 73.4 L136.6 81.2" fill="none" stroke="#f01818" stroke-width="1.4" marker-start="url(#ahr)" marker-end="url(#ahr)"/>
<text x="86.3" y="95.0" font-size="10.3" text-anchor="start" font-weight="normal" fill="#1a1a1a" >D</text>
<text x="120.5" y="107.7" font-size="10.3" text-anchor="start" font-weight="normal" fill="#1a1a1a" >S</text>
<path d="M78.4 152.1 C58 146, 52 138, 90.2 125.7" fill="none" stroke="#1a1a1a" stroke-width="1.1" marker-end="url(#ah)"/>
<text x="42.5" y="163.6" font-size="11.15" text-anchor="start" font-weight="normal" fill="#1a1a1a" >Neck channel</text>
<rect x="50.7" y="391.7" width="163.7" height="131.2" fill="#fff" stroke="#7a7a7a" stroke-width="1.0"/>
<line x1="50.7" y1="417.1" x2="53.7" y2="417.1" stroke="#7a7a7a" stroke-width="0.8" />
<line x1="214.4" y1="417.1" x2="211.4" y2="417.1" stroke="#7a7a7a" stroke-width="0.8" />
<text x="47.6" y="420.3" font-size="9.1" text-anchor="end" font-weight="normal" fill="#1a1a1a" >210</text>
<line x1="50.7" y1="450.1" x2="53.7" y2="450.1" stroke="#7a7a7a" stroke-width="0.8" />
<line x1="214.4" y1="450.1" x2="211.4" y2="450.1" stroke="#7a7a7a" stroke-width="0.8" />
<text x="47.6" y="453.3" font-size="9.1" text-anchor="end" font-weight="normal" fill="#1a1a1a" >160</text>
<line x1="50.7" y1="483.1" x2="53.7" y2="483.1" stroke="#7a7a7a" stroke-width="0.8" />
<line x1="214.4" y1="483.1" x2="211.4" y2="483.1" stroke="#7a7a7a" stroke-width="0.8" />
<text x="47.6" y="486.3" font-size="9.1" text-anchor="end" font-weight="normal" fill="#1a1a1a" >110</text>
<line x1="50.7" y1="516.1" x2="53.7" y2="516.1" stroke="#7a7a7a" stroke-width="0.8" />
<line x1="214.4" y1="516.1" x2="211.4" y2="516.1" stroke="#7a7a7a" stroke-width="0.8" />
<text x="47.6" y="519.3" font-size="9.1" text-anchor="end" font-weight="normal" fill="#1a1a1a" >60</text>
<line x1="50.7" y1="400.6" x2="52.5" y2="400.6" stroke="#7a7a7a" stroke-width="0.7" />
<line x1="214.4" y1="400.6" x2="212.6" y2="400.6" stroke="#7a7a7a" stroke-width="0.7" />
<line x1="50.7" y1="433.6" x2="52.5" y2="433.6" stroke="#7a7a7a" stroke-width="0.7" />
<line x1="214.4" y1="433.6" x2="212.6" y2="433.6" stroke="#7a7a7a" stroke-width="0.7" />
<line x1="50.7" y1="466.6" x2="52.5" y2="466.6" stroke="#7a7a7a" stroke-width="0.7" />
<line x1="214.4" y1="466.6" x2="212.6" y2="466.6" stroke="#7a7a7a" stroke-width="0.7" />
<line x1="50.7" y1="499.6" x2="52.5" y2="499.6" stroke="#7a7a7a" stroke-width="0.7" />
<line x1="214.4" y1="499.6" x2="212.6" y2="499.6" stroke="#7a7a7a" stroke-width="0.7" />
<line x1="77.8" y1="522.9" x2="77.8" y2="519.9" stroke="#7a7a7a" stroke-width="0.8" />
<text x="77.8" y="533.4" font-size="9.3" text-anchor="middle" font-weight="normal" fill="#1a1a1a" >THK-FET</text>
<line x1="132.4" y1="522.9" x2="132.4" y2="519.9" stroke="#7a7a7a" stroke-width="0.8" />
<text x="132.4" y="533.4" font-size="9.3" text-anchor="middle" font-weight="normal" fill="#1a1a1a" >THN-FET</text>
<line x1="187.1" y1="522.9" x2="187.1" y2="519.9" stroke="#7a7a7a" stroke-width="0.8" />
<text x="187.1" y="533.4" font-size="9.3" text-anchor="middle" font-weight="normal" fill="#1a1a1a" >NK-FET</text>
<text x="27.8" y="456.4" font-size="11.1" text-anchor="middle" font-weight="normal" fill="#1a1a1a" transform="rotate(-90 27.8 456.4)" >SS (mV/dec)</text>
<polygon points="81.6,425.3 77.8,427.5 74.0,425.3 74.0,420.9 77.8,418.7 81.6,420.9" fill="#fff" stroke="#1e9e1e" stroke-width="0.9" stroke-linejoin="round" />
<polygon points="77.8,418.7 81.6,420.9 81.6,425.3 77.8,427.5" fill="#1e9e1e" stroke="#1e9e1e" stroke-width="0.6" stroke-linejoin="round" />
<polygon points="136.2,470.8 132.4,473.0 128.6,470.8 128.6,466.4 132.4,464.2 136.2,466.4" fill="#fff" stroke="#1e9e1e" stroke-width="0.9" stroke-linejoin="round" />
<polygon points="132.4,464.2 136.2,466.4 136.2,470.8 132.4,473.0" fill="#1e9e1e" stroke="#1e9e1e" stroke-width="0.6" stroke-linejoin="round" />
<polygon points="190.9,512.2 187.1,514.4 183.3,512.2 183.3,507.8 187.1,505.6 190.9,507.8" fill="#fff" stroke="#1e9e1e" stroke-width="0.9" stroke-linejoin="round" />
<polygon points="187.1,505.6 190.9,507.8 190.9,512.2 187.1,514.4" fill="#1e9e1e" stroke="#1e9e1e" stroke-width="0.6" stroke-linejoin="round" />
<rect x="308.0" y="391.8" width="163.4" height="131.2" fill="#fff" stroke="none"/>
<line x1="308.0" y1="391.8" x2="471.4" y2="391.8" stroke="#7a7a7a" stroke-width="1" />
<line x1="308.0" y1="523.0" x2="471.4" y2="523.0" stroke="#7a7a7a" stroke-width="1" />
<line x1="308.0" y1="391.8" x2="308.0" y2="523.0" stroke="#fa1e1e" stroke-width="1" />
<line x1="471.4" y1="391.8" x2="471.4" y2="523.0" stroke="#2a4ff5" stroke-width="1" />
<line x1="308.0" y1="412.6" x2="311.0" y2="412.6" stroke="#fa1e1e" stroke-width="0.8" />
<text x="305.4" y="415.9" font-size="9.2" text-anchor="end" font-weight="normal" fill="#fa1e1e" >10<tspan font-size="6.0" dy="-3.5">-10</tspan><tspan dy="3.5" font-size="1">&#8203;</tspan></text>
<line x1="308.0" y1="440.0" x2="311.0" y2="440.0" stroke="#fa1e1e" stroke-width="0.8" />
<text x="305.4" y="443.3" font-size="9.2" text-anchor="end" font-weight="normal" fill="#fa1e1e" >10<tspan font-size="6.0" dy="-3.5">-11</tspan><tspan dy="3.5" font-size="1">&#8203;</tspan></text>
<line x1="308.0" y1="467.4" x2="311.0" y2="467.4" stroke="#fa1e1e" stroke-width="0.8" />
<text x="305.4" y="470.7" font-size="9.2" text-anchor="end" font-weight="normal" fill="#fa1e1e" >10<tspan font-size="6.0" dy="-3.5">-12</tspan><tspan dy="3.5" font-size="1">&#8203;</tspan></text>
<line x1="308.0" y1="494.8" x2="311.0" y2="494.8" stroke="#fa1e1e" stroke-width="0.8" />
<text x="305.4" y="498.1" font-size="9.2" text-anchor="end" font-weight="normal" fill="#fa1e1e" >10<tspan font-size="6.0" dy="-3.5">-13</tspan><tspan dy="3.5" font-size="1">&#8203;</tspan></text>
<line x1="308.0" y1="522.2" x2="311.0" y2="522.2" stroke="#fa1e1e" stroke-width="0.8" />
<text x="305.4" y="525.5" font-size="9.2" text-anchor="end" font-weight="normal" fill="#fa1e1e" >10<tspan font-size="6.0" dy="-3.5">-14</tspan><tspan dy="3.5" font-size="1">&#8203;</tspan></text>
<line x1="308.0" y1="404.4" x2="309.6" y2="404.4" stroke="#fa1e1e" stroke-width="0.5" />
<line x1="308.0" y1="399.5" x2="309.6" y2="399.5" stroke="#fa1e1e" stroke-width="0.5" />
<line x1="308.0" y1="396.1" x2="309.6" y2="396.1" stroke="#fa1e1e" stroke-width="0.5" />
<line x1="308.0" y1="393.4" x2="309.6" y2="393.4" stroke="#fa1e1e" stroke-width="0.5" />
<line x1="308.0" y1="431.8" x2="309.6" y2="431.8" stroke="#fa1e1e" stroke-width="0.5" />
<line x1="308.0" y1="426.9" x2="309.6" y2="426.9" stroke="#fa1e1e" stroke-width="0.5" />
<line x1="308.0" y1="423.5" x2="309.6" y2="423.5" stroke="#fa1e1e" stroke-width="0.5" />
<line x1="308.0" y1="420.8" x2="309.6" y2="420.8" stroke="#fa1e1e" stroke-width="0.5" />
<line x1="308.0" y1="418.7" x2="309.6" y2="418.7" stroke="#fa1e1e" stroke-width="0.5" />
<line x1="308.0" y1="416.8" x2="309.6" y2="416.8" stroke="#fa1e1e" stroke-width="0.5" />
<line x1="308.0" y1="415.3" x2="309.6" y2="415.3" stroke="#fa1e1e" stroke-width="0.5" />
<line x1="308.0" y1="413.9" x2="309.6" y2="413.9" stroke="#fa1e1e" stroke-width="0.5" />
<line x1="308.0" y1="459.2" x2="309.6" y2="459.2" stroke="#fa1e1e" stroke-width="0.5" />
<line x1="308.0" y1="454.3" x2="309.6" y2="454.3" stroke="#fa1e1e" stroke-width="0.5" />
<line x1="308.0" y1="450.9" x2="309.6" y2="450.9" stroke="#fa1e1e" stroke-width="0.5" />
<line x1="308.0" y1="448.2" x2="309.6" y2="448.2" stroke="#fa1e1e" stroke-width="0.5" />
<line x1="308.0" y1="446.1" x2="309.6" y2="446.1" stroke="#fa1e1e" stroke-width="0.5" />
<line x1="308.0" y1="444.2" x2="309.6" y2="444.2" stroke="#fa1e1e" stroke-width="0.5" />
<line x1="308.0" y1="442.7" x2="309.6" y2="442.7" stroke="#fa1e1e" stroke-width="0.5" />
<line x1="308.0" y1="441.3" x2="309.6" y2="441.3" stroke="#fa1e1e" stroke-width="0.5" />
<line x1="308.0" y1="486.6" x2="309.6" y2="486.6" stroke="#fa1e1e" stroke-width="0.5" />
<line x1="308.0" y1="481.7" x2="309.6" y2="481.7" stroke="#fa1e1e" stroke-width="0.5" />
<line x1="308.0" y1="478.3" x2="309.6" y2="478.3" stroke="#fa1e1e" stroke-width="0.5" />
<line x1="308.0" y1="475.6" x2="309.6" y2="475.6" stroke="#fa1e1e" stroke-width="0.5" />
<line x1="308.0" y1="473.5" x2="309.6" y2="473.5" stroke="#fa1e1e" stroke-width="0.5" />
<line x1="308.0" y1="471.6" x2="309.6" y2="471.6" stroke="#fa1e1e" stroke-width="0.5" />
<line x1="308.0" y1="470.1" x2="309.6" y2="470.1" stroke="#fa1e1e" stroke-width="0.5" />
<line x1="308.0" y1="468.7" x2="309.6" y2="468.7" stroke="#fa1e1e" stroke-width="0.5" />
<line x1="308.0" y1="514.0" x2="309.6" y2="514.0" stroke="#fa1e1e" stroke-width="0.5" />
<line x1="308.0" y1="509.1" x2="309.6" y2="509.1" stroke="#fa1e1e" stroke-width="0.5" />
<line x1="308.0" y1="505.7" x2="309.6" y2="505.7" stroke="#fa1e1e" stroke-width="0.5" />
<line x1="308.0" y1="503.0" x2="309.6" y2="503.0" stroke="#fa1e1e" stroke-width="0.5" />
<line x1="308.0" y1="500.9" x2="309.6" y2="500.9" stroke="#fa1e1e" stroke-width="0.5" />
<line x1="308.0" y1="499.0" x2="309.6" y2="499.0" stroke="#fa1e1e" stroke-width="0.5" />
<line x1="308.0" y1="497.5" x2="309.6" y2="497.5" stroke="#fa1e1e" stroke-width="0.5" />
<line x1="308.0" y1="496.1" x2="309.6" y2="496.1" stroke="#fa1e1e" stroke-width="0.5" />
<line x1="471.4" y1="412.6" x2="468.4" y2="412.6" stroke="#2a4ff5" stroke-width="0.8" />
<text x="474.3" y="415.9" font-size="9.2" text-anchor="start" font-weight="normal" fill="#2a4ff5" >10<tspan font-size="6.0" dy="-3.5">-5</tspan><tspan dy="3.5" font-size="1">&#8203;</tspan></text>
<line x1="471.4" y1="467.4" x2="468.4" y2="467.4" stroke="#2a4ff5" stroke-width="0.8" />
<text x="474.3" y="470.7" font-size="9.2" text-anchor="start" font-weight="normal" fill="#2a4ff5" >10<tspan font-size="6.0" dy="-3.5">-6</tspan><tspan dy="3.5" font-size="1">&#8203;</tspan></text>
<line x1="471.4" y1="522.2" x2="468.4" y2="522.2" stroke="#2a4ff5" stroke-width="0.8" />
<text x="474.3" y="525.5" font-size="9.2" text-anchor="start" font-weight="normal" fill="#2a4ff5" >10<tspan font-size="6.0" dy="-3.5">-7</tspan><tspan dy="3.5" font-size="1">&#8203;</tspan></text>
<line x1="471.4" y1="396.1" x2="469.8" y2="396.1" stroke="#2a4ff5" stroke-width="0.5" />
<line x1="471.4" y1="450.9" x2="469.8" y2="450.9" stroke="#2a4ff5" stroke-width="0.5" />
<line x1="471.4" y1="441.3" x2="469.8" y2="441.3" stroke="#2a4ff5" stroke-width="0.5" />
<line x1="471.4" y1="434.4" x2="469.8" y2="434.4" stroke="#2a4ff5" stroke-width="0.5" />
<line x1="471.4" y1="429.1" x2="469.8" y2="429.1" stroke="#2a4ff5" stroke-width="0.5" />
<line x1="471.4" y1="424.8" x2="469.8" y2="424.8" stroke="#2a4ff5" stroke-width="0.5" />
<line x1="471.4" y1="421.1" x2="469.8" y2="421.1" stroke="#2a4ff5" stroke-width="0.5" />
<line x1="471.4" y1="417.9" x2="469.8" y2="417.9" stroke="#2a4ff5" stroke-width="0.5" />
<line x1="471.4" y1="415.1" x2="469.8" y2="415.1" stroke="#2a4ff5" stroke-width="0.5" />
<line x1="471.4" y1="505.7" x2="469.8" y2="505.7" stroke="#2a4ff5" stroke-width="0.5" />
<line x1="471.4" y1="496.1" x2="469.8" y2="496.1" stroke="#2a4ff5" stroke-width="0.5" />
<line x1="471.4" y1="489.2" x2="469.8" y2="489.2" stroke="#2a4ff5" stroke-width="0.5" />
<line x1="471.4" y1="483.9" x2="469.8" y2="483.9" stroke="#2a4ff5" stroke-width="0.5" />
<line x1="471.4" y1="479.6" x2="469.8" y2="479.6" stroke="#2a4ff5" stroke-width="0.5" />
<line x1="471.4" y1="475.9" x2="469.8" y2="475.9" stroke="#2a4ff5" stroke-width="0.5" />
<line x1="471.4" y1="472.7" x2="469.8" y2="472.7" stroke="#2a4ff5" stroke-width="0.5" />
<line x1="471.4" y1="469.9" x2="469.8" y2="469.9" stroke="#2a4ff5" stroke-width="0.5" />
<line x1="335.1" y1="523.0" x2="335.1" y2="520.0" stroke="#7a7a7a" stroke-width="0.8" />
<text x="335.1" y="533.0" font-size="9.4" text-anchor="middle" font-weight="normal" fill="#222" stroke="#222" stroke-width="0.25">THK-FET</text>
<line x1="389.5" y1="523.0" x2="389.5" y2="520.0" stroke="#7a7a7a" stroke-width="0.8" />
<text x="389.5" y="533.0" font-size="9.4" text-anchor="middle" font-weight="normal" fill="#222" stroke="#222" stroke-width="0.25">THN-FET</text>
<line x1="443.8" y1="523.0" x2="443.8" y2="520.0" stroke="#7a7a7a" stroke-width="0.8" />
<text x="443.8" y="533.0" font-size="9.4" text-anchor="middle" font-weight="normal" fill="#222" stroke="#222" stroke-width="0.25">NK-FET</text>
<text x="280.0" y="458.0" font-size="10.5" text-anchor="middle" font-weight="normal" fill="#fa1e1e" transform="rotate(-90 280.0 458.0)" >I<tspan font-size="7" dy="2">off</tspan><tspan dy="-2" font-size="1">&#8203;</tspan> (A)</text>
<text x="500.0" y="456.4" font-size="8.6" text-anchor="middle" font-weight="normal" fill="#2a4ff5" transform="rotate(-90 500.0 456.4)" >I<tspan font-size="5.5" dy="1.6">on</tspan><tspan dy="-1.6" font-size="1">&#8203;</tspan> (A)</text>
<polygon points="335.1,410.4 339.8,413.8 338.0,419.3 332.2,419.3 330.4,413.8" fill="#fff" stroke="#fa1e1e" stroke-width="0.9" stroke-linejoin="round" />
<polygon points="330.4,413.8 335.1,410.4 339.8,413.8 339.6,415.4 330.6,415.4" fill="#fa1e1e" stroke="#fa1e1e" stroke-width="0.6" stroke-linejoin="round" />
<polygon points="389.5,513.1 394.2,516.5 392.4,522.0 386.6,522.0 384.8,516.5" fill="#fff" stroke="#fa1e1e" stroke-width="0.9" stroke-linejoin="round" />
<polygon points="384.8,516.5 389.5,513.1 394.2,516.5 394.0,518.1 385.0,518.1" fill="#fa1e1e" stroke="#fa1e1e" stroke-width="0.6" stroke-linejoin="round" />
<polygon points="443.8,499.4 448.5,502.8 446.7,508.3 440.9,508.3 439.1,502.8" fill="#fff" stroke="#fa1e1e" stroke-width="0.9" stroke-linejoin="round" />
<polygon points="439.1,502.8 443.8,499.4 448.5,502.8 448.3,504.4 439.3,504.4" fill="#fa1e1e" stroke="#fa1e1e" stroke-width="0.6" stroke-linejoin="round" />
<circle cx="335.1" cy="399.6" r="4.3" fill="#fff" stroke="#2a4ff5" stroke-width="0.9"/>
<path d="M330.8 399.6 A4.3 4.3 0 0 1 339.4 399.6 Z" fill="#2a4ff5" stroke="#2a4ff5" stroke-width="0.6"/>
<circle cx="389.5" cy="497.7" r="4.3" fill="#fff" stroke="#2a4ff5" stroke-width="0.9"/>
<path d="M385.2 497.7 A4.3 4.3 0 0 1 393.8 497.7 Z" fill="#2a4ff5" stroke="#2a4ff5" stroke-width="0.6"/>
<circle cx="443.8" cy="450.0" r="4.3" fill="#fff" stroke="#2a4ff5" stroke-width="0.9"/>
<path d="M439.5 450.0 A4.3 4.3 0 0 1 448.1 450.0 Z" fill="#2a4ff5" stroke="#2a4ff5" stroke-width="0.6"/>
<rect x="577.6" y="391.2" width="156.2" height="129.9" fill="#fff" stroke="#7a7a7a" stroke-width="1.0"/>
<line x1="577.6" y1="515.4" x2="580.6" y2="515.4" stroke="#7a7a7a" stroke-width="0.8" />
<text x="575.0" y="518.6" font-size="9" text-anchor="end" font-weight="normal" fill="#1a1a1a" >60</text>
<line x1="577.6" y1="497.4" x2="580.6" y2="497.4" stroke="#7a7a7a" stroke-width="0.8" />
<text x="575.0" y="500.6" font-size="9" text-anchor="end" font-weight="normal" fill="#1a1a1a" >80</text>
<line x1="577.6" y1="479.3" x2="580.6" y2="479.3" stroke="#7a7a7a" stroke-width="0.8" />
<text x="575.0" y="482.5" font-size="9" text-anchor="end" font-weight="normal" fill="#1a1a1a" >100</text>
<line x1="577.6" y1="461.3" x2="580.6" y2="461.3" stroke="#7a7a7a" stroke-width="0.8" />
<text x="575.0" y="464.5" font-size="9" text-anchor="end" font-weight="normal" fill="#1a1a1a" >120</text>
<line x1="577.6" y1="443.3" x2="580.6" y2="443.3" stroke="#7a7a7a" stroke-width="0.8" />
<text x="575.0" y="446.5" font-size="9" text-anchor="end" font-weight="normal" fill="#1a1a1a" >140</text>
<line x1="577.6" y1="425.2" x2="580.6" y2="425.2" stroke="#7a7a7a" stroke-width="0.8" />
<text x="575.0" y="428.4" font-size="9" text-anchor="end" font-weight="normal" fill="#1a1a1a" >160</text>
<line x1="577.6" y1="407.2" x2="580.6" y2="407.2" stroke="#7a7a7a" stroke-width="0.8" />
<text x="575.0" y="410.4" font-size="9" text-anchor="end" font-weight="normal" fill="#1a1a1a" >180</text>
<line x1="577.6" y1="506.4" x2="579.4" y2="506.4" stroke="#7a7a7a" stroke-width="0.7" />
<line x1="577.6" y1="488.3" x2="579.4" y2="488.3" stroke="#7a7a7a" stroke-width="0.7" />
<line x1="577.6" y1="470.3" x2="579.4" y2="470.3" stroke="#7a7a7a" stroke-width="0.7" />
<line x1="577.6" y1="452.3" x2="579.4" y2="452.3" stroke="#7a7a7a" stroke-width="0.7" />
<line x1="577.6" y1="434.2" x2="579.4" y2="434.2" stroke="#7a7a7a" stroke-width="0.7" />
<line x1="577.6" y1="416.2" x2="579.4" y2="416.2" stroke="#7a7a7a" stroke-width="0.7" />
<line x1="615.6" y1="521.1" x2="615.6" y2="518.1" stroke="#7a7a7a" stroke-width="0.8" />
<text x="615.6" y="531.2" font-size="9" text-anchor="middle" font-weight="normal" fill="#1a1a1a" >THK-FET</text>
<line x1="692.8" y1="521.1" x2="692.8" y2="518.1" stroke="#7a7a7a" stroke-width="0.8" />
<text x="692.8" y="531.2" font-size="9" text-anchor="middle" font-weight="normal" fill="#1a1a1a" >NK-FET</text>
<text x="555.6" y="455.4" font-size="11.1" text-anchor="middle" font-weight="normal" fill="#1a1a1a" transform="rotate(-90 555.6 455.4)" >SS (mV/dec)</text>
<rect x="591.7" y="433.1" width="49.9" height="7.1" fill="#f7c493" stroke="#c9782f" stroke-width="0.9"/>
<line x1="591.7" y1="437.4" x2="641.6" y2="437.4" stroke="#c9782f" stroke-width="0.9" />
<line x1="693.8" y1="452.0" x2="693.8" y2="508.3" stroke="#6e6e6e" stroke-width="0.9" />
<line x1="682.0" y1="452.0" x2="705.6" y2="452.0" stroke="#6e6e6e" stroke-width="0.9" />
<line x1="682.0" y1="508.3" x2="705.6" y2="508.3" stroke="#6e6e6e" stroke-width="0.9" />
<rect x="669.5" y="466.2" width="49.5" height="32" fill="#8fd38f" stroke="#4f8f57" stroke-width="0.9"/>
<line x1="669.5" y1="483.0" x2="719.0" y2="483.0" stroke="#5a7a5e" stroke-width="1.0" />
<rect x="660" y="448.8" width="68.2" height="34.2" rx="5.5" fill="none" stroke="#e628e6" stroke-width="1.1" stroke-dasharray="3.6 2.6"/>
<rect x="660" y="483.2" width="68.2" height="23.4" rx="4.5" fill="none" stroke="#30c070" stroke-width="1.1" stroke-dasharray="3.6 2.6"/>
<text x="627.2" y="474.0" font-size="11.1" text-anchor="middle" font-weight="normal" fill="#e628e6" >NR ~ 70%</text>
<text x="627.5" y="502.7" font-size="11.1" text-anchor="middle" font-weight="normal" fill="#30c070" >NR ~ 50%</text>
<polygon points="608.5,418.2 611.0,420.7 608.5,423.2 606.0,420.7" fill="#000" stroke="#000" stroke-width="0.3" stroke-linejoin="round" />
<polygon points="614.6,430.6 617.1,433.1 614.6,435.6 612.1,433.1" fill="#000" stroke="#000" stroke-width="0.3" stroke-linejoin="round" />
<polygon points="611.2,438.4 613.7,440.9 611.2,443.4 608.7,440.9" fill="#000" stroke="#000" stroke-width="0.3" stroke-linejoin="round" />
<polygon points="623.0,436.0 625.5,438.5 623.0,441.0 620.5,438.5" fill="#000" stroke="#000" stroke-width="0.3" stroke-linejoin="round" />
<polygon points="612.2,458.6 614.7,461.1 612.2,463.6 609.7,461.1" fill="#000" stroke="#000" stroke-width="0.3" stroke-linejoin="round" />
<polygon points="697.2,449.5 699.7,452.0 697.2,454.5 694.7,452.0" fill="#000" stroke="#000" stroke-width="0.3" stroke-linejoin="round" />
<polygon points="684.7,455.9 687.2,458.4 684.7,460.9 682.2,458.4" fill="#000" stroke="#000" stroke-width="0.3" stroke-linejoin="round" />
<polygon points="688.0,458.5 690.5,461.0 688.0,463.5 685.5,461.0" fill="#000" stroke="#000" stroke-width="0.3" stroke-linejoin="round" />
<polygon points="688.7,461.3 691.2,463.8 688.7,466.3 686.2,463.8" fill="#000" stroke="#000" stroke-width="0.3" stroke-linejoin="round" />
<polygon points="694.8,463.7 697.3,466.2 694.8,468.7 692.3,466.2" fill="#000" stroke="#000" stroke-width="0.3" stroke-linejoin="round" />
<polygon points="695.5,467.7 698.0,470.2 695.5,472.7 693.0,470.2" fill="#000" stroke="#000" stroke-width="0.3" stroke-linejoin="round" />
<polygon points="688.0,472.1 690.5,474.6 688.0,477.1 685.5,474.6" fill="#000" stroke="#000" stroke-width="0.3" stroke-linejoin="round" />
<polygon points="697.8,477.1 700.3,479.6 697.8,482.1 695.3,479.6" fill="#000" stroke="#000" stroke-width="0.3" stroke-linejoin="round" />
<polygon points="690.4,482.9 692.9,485.4 690.4,487.9 687.9,485.4" fill="#000" stroke="#000" stroke-width="0.3" stroke-linejoin="round" />
<polygon points="695.5,490.0 698.0,492.5 695.5,495.0 693.0,492.5" fill="#000" stroke="#000" stroke-width="0.3" stroke-linejoin="round" />
<polygon points="697.2,492.3 699.7,494.8 697.2,497.3 694.7,494.8" fill="#000" stroke="#000" stroke-width="0.3" stroke-linejoin="round" />
<polygon points="692.1,495.0 694.6,497.5 692.1,500.0 689.6,497.5" fill="#000" stroke="#000" stroke-width="0.3" stroke-linejoin="round" />
<polygon points="692.1,498.4 694.6,500.9 692.1,503.4 689.6,500.9" fill="#000" stroke="#000" stroke-width="0.3" stroke-linejoin="round" />
<polygon points="697.2,501.4 699.7,503.9 697.2,506.4 694.7,503.9" fill="#000" stroke="#000" stroke-width="0.3" stroke-linejoin="round" />
<polygon points="695.5,503.4 698.0,505.9 695.5,508.4 693.0,505.9" fill="#000" stroke="#000" stroke-width="0.3" stroke-linejoin="round" />
<polygon points="692.8,505.8 695.3,508.3 692.8,510.8 690.3,508.3" fill="#000" stroke="#000" stroke-width="0.3" stroke-linejoin="round" />
<g transform="translate(648.5 432.8) rotate(28)"><polygon points="0,-2.6 14.5,-2.6 14.5,-6 24.5,0 14.5,6 14.5,2.6 0,2.6" fill="#a6a6a6" stroke="#9a9a9a" stroke-width="0.5"/></g>
</svg>
</body></html>
